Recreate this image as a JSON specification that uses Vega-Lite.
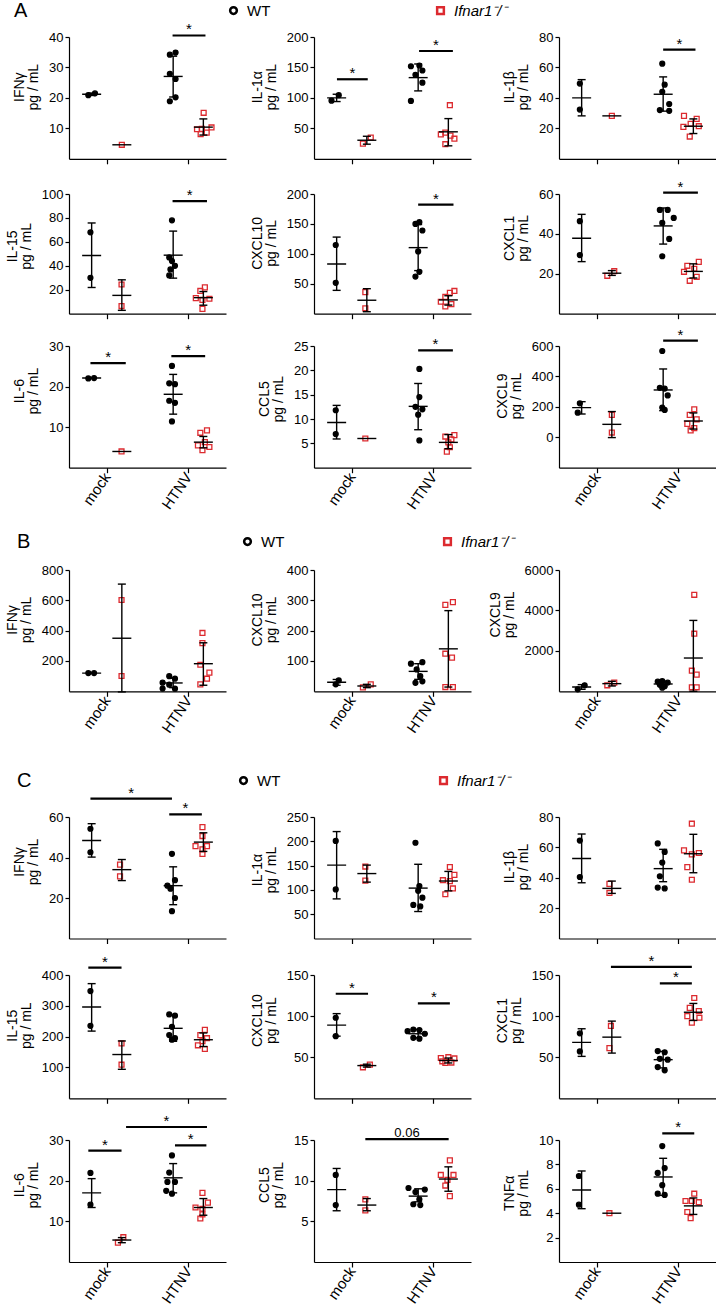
{
"$schema": "https://vega.github.io/schema/vega-lite/v6.json",
"padding": {"left": 5, "top": 3, "right": 0, "bottom": 0},
"config": {
 "view": {"stroke": null},
 "font": "Liberation Sans",
 "axis": {"grid": false, "domainColor": "#000", "tickColor": "#000", "labelColor": "#000", "titleColor": "#000", "labelFont": "Liberation Sans", "titleFont": "Liberation Sans", "labelFontSize": 13, "titleFontSize": 14, "titleFontWeight": "normal", "tickSize": 4, "domainWidth": 1.2, "tickWidth": 1.2, "labelPadding": 2, "titlePadding": 8, "titleLineHeight": 14, "labelFlush": false, "labelOverlap": false},
 "axisX": {"tickSize": 5, "labelAngle": -55, "labelAlign": "right", "labelBaseline": "middle", "labelFontSize": 15, "labelPadding": 1},
 "legend": {"labelFont": "Liberation Sans", "titleFont": "Liberation Sans", "labelColor": "#000", "titleColor": "#000"},
 "text": {"font": "Liberation Sans"}
},
"data": {"values": [
{"p":"A11","k":"pt","g":"WT","x":0.64,"v":20.9},{"p":"A11","k":"pt","g":"WT","x":0.86,"v":21.5},{"p":"A11","k":"pt","g":"KO","x":1.75,"v":4.6},
{"p":"A11","k":"pt","g":"WT","x":3.34,"v":34.2},{"p":"A11","k":"pt","g":"WT","x":3.53,"v":34.9},{"p":"A11","k":"pt","g":"WT","x":3.34,"v":27.9},{"p":"A11","k":"pt","g":"WT","x":3.53,"v":26.2},{"p":"A11","k":"pt","g":"WT","x":3.53,"v":20.2},{"p":"A11","k":"pt","g":"WT","x":3.34,"v":18.9},
{"p":"A11","k":"pt","g":"KO","x":4.46,"v":15.1},{"p":"A11","k":"pt","g":"KO","x":4.24,"v":9.7},{"p":"A11","k":"pt","g":"KO","x":4.4,"v":9.8},{"p":"A11","k":"pt","g":"KO","x":4.72,"v":10.3},{"p":"A11","k":"pt","g":"KO","x":4.36,"v":8.1},{"p":"A11","k":"pt","g":"KO","x":4.56,"v":8.6},
{"p":"A11","k":"sm","x":0.75,"m":21.2,"lo":20.8,"hi":21.6},{"p":"A11","k":"sm","x":1.75,"m":4.6},{"p":"A11","k":"sm","x":3.45,"m":27.05,"lo":20.3,"hi":33.7},{"p":"A11","k":"sm","x":4.45,"m":10.4,"lo":7.8,"hi":13.1},
{"p":"A11","k":"sg","x1":3.43,"x2":4.52,"xm":3.975,"y":40.5,"t":"*"},
{"p":"A12","k":"pt","g":"WT","x":0.58,"v":95.5},{"p":"A12","k":"pt","g":"WT","x":0.82,"v":104.5},{"p":"A12","k":"pt","g":"KO","x":1.62,"v":25},{"p":"A12","k":"pt","g":"KO","x":1.88,"v":35},
{"p":"A12","k":"pt","g":"WT","x":3.21,"v":152},{"p":"A12","k":"pt","g":"WT","x":3.49,"v":153},{"p":"A12","k":"pt","g":"WT","x":3.59,"v":145},{"p":"A12","k":"pt","g":"WT","x":3.36,"v":138},{"p":"A12","k":"pt","g":"WT","x":3.59,"v":125},{"p":"A12","k":"pt","g":"WT","x":3.21,"v":95},
{"p":"A12","k":"pt","g":"KO","x":4.5,"v":88},{"p":"A12","k":"pt","g":"KO","x":4.35,"v":43},{"p":"A12","k":"pt","g":"KO","x":4.2,"v":40},{"p":"A12","k":"pt","g":"KO","x":4.52,"v":38},{"p":"A12","k":"pt","g":"KO","x":4.65,"v":33},{"p":"A12","k":"pt","g":"KO","x":4.35,"v":24},
{"p":"A12","k":"sm","x":0.75,"m":100,"lo":94,"hi":106},{"p":"A12","k":"sm","x":1.75,"m":30.5,"lo":24,"hi":37},{"p":"A12","k":"sm","x":3.45,"m":133.3,"lo":111.5,"hi":155.7},{"p":"A12","k":"sm","x":4.45,"m":44.3,"lo":21.3,"hi":66},
{"p":"A12","k":"sg","x1":0.76,"x2":1.78,"xm":1.27,"y":130.6,"t":"*"},{"p":"A12","k":"sg","x1":3.48,"x2":4.6,"xm":4.04,"y":177,"t":"*"},
{"p":"A13","k":"pt","g":"WT","x":0.69,"v":49.4},{"p":"A13","k":"pt","g":"WT","x":0.69,"v":32.3},{"p":"A13","k":"pt","g":"KO","x":1.75,"v":28.2},
{"p":"A13","k":"pt","g":"WT","x":3.42,"v":62.5},{"p":"A13","k":"pt","g":"WT","x":3.5,"v":48.7},{"p":"A13","k":"pt","g":"WT","x":3.42,"v":44},{"p":"A13","k":"pt","g":"WT","x":3.65,"v":36},{"p":"A13","k":"pt","g":"WT","x":3.34,"v":32},{"p":"A13","k":"pt","g":"WT","x":3.65,"v":31.5},
{"p":"A13","k":"pt","g":"KO","x":4.14,"v":28.2},{"p":"A13","k":"pt","g":"KO","x":4.56,"v":26.2},{"p":"A13","k":"pt","g":"KO","x":4.36,"v":23},{"p":"A13","k":"pt","g":"KO","x":4.12,"v":21},{"p":"A13","k":"pt","g":"KO","x":4.63,"v":21.4},{"p":"A13","k":"pt","g":"KO","x":4.33,"v":14.6},
{"p":"A13","k":"sm","x":0.75,"m":40,"lo":28.2,"hi":52},{"p":"A13","k":"sm","x":1.75,"m":28.2},{"p":"A13","k":"sm","x":3.45,"m":42.4,"lo":31.3,"hi":53.8},{"p":"A13","k":"sm","x":4.45,"m":21.4,"lo":16.6,"hi":26.2},
{"p":"A13","k":"sg","x1":3.45,"x2":4.52,"xm":3.985,"y":71.7,"t":"*"},
{"p":"A21","k":"pt","g":"WT","x":0.71,"v":68},{"p":"A21","k":"pt","g":"WT","x":0.71,"v":30},{"p":"A21","k":"pt","g":"KO","x":1.74,"v":24.4},{"p":"A21","k":"pt","g":"KO","x":1.74,"v":6.4},
{"p":"A21","k":"pt","g":"WT","x":3.41,"v":78},{"p":"A21","k":"pt","g":"WT","x":3.32,"v":47},{"p":"A21","k":"pt","g":"WT","x":3.41,"v":44},{"p":"A21","k":"pt","g":"WT","x":3.51,"v":40},{"p":"A21","k":"pt","g":"WT","x":3.36,"v":37},{"p":"A21","k":"pt","g":"WT","x":3.32,"v":32},
{"p":"A21","k":"pt","g":"KO","x":4.5,"v":22},{"p":"A21","k":"pt","g":"KO","x":4.35,"v":19},{"p":"A21","k":"pt","g":"KO","x":4.2,"v":13},{"p":"A21","k":"pt","g":"KO","x":4.65,"v":12.5},{"p":"A21","k":"pt","g":"KO","x":4.42,"v":11.5},{"p":"A21","k":"pt","g":"KO","x":4.42,"v":4},
{"p":"A21","k":"sm","x":0.75,"m":48.6,"lo":21.9,"hi":75.8},{"p":"A21","k":"sm","x":1.75,"m":15.3,"lo":2.8,"hi":28.3},{"p":"A21","k":"sm","x":3.45,"m":48.9,"lo":29.7,"hi":69},{"p":"A21","k":"sm","x":4.45,"m":13.4,"lo":7.1,"hi":18.5},
{"p":"A21","k":"sg","x1":3.43,"x2":4.57,"xm":4.0,"y":94,"t":"*"},
{"p":"A22","k":"pt","g":"WT","x":0.72,"v":114.8},{"p":"A22","k":"pt","g":"WT","x":0.72,"v":51.6},{"p":"A22","k":"pt","g":"KO","x":1.7,"v":36},{"p":"A22","k":"pt","g":"KO","x":1.7,"v":9},
{"p":"A22","k":"pt","g":"WT","x":3.49,"v":153},{"p":"A22","k":"pt","g":"WT","x":3.36,"v":150},{"p":"A22","k":"pt","g":"WT","x":3.59,"v":139},{"p":"A22","k":"pt","g":"WT","x":3.45,"v":104},{"p":"A22","k":"pt","g":"WT","x":3.49,"v":70},{"p":"A22","k":"pt","g":"WT","x":3.36,"v":62},
{"p":"A22","k":"pt","g":"KO","x":4.65,"v":38},{"p":"A22","k":"pt","g":"KO","x":4.5,"v":35},{"p":"A22","k":"pt","g":"KO","x":4.35,"v":28},{"p":"A22","k":"pt","g":"KO","x":4.2,"v":20},{"p":"A22","k":"pt","g":"KO","x":4.55,"v":16},{"p":"A22","k":"pt","g":"KO","x":4.35,"v":12},
{"p":"A22","k":"sm","x":0.75,"m":83,"lo":39,"hi":128},{"p":"A22","k":"sm","x":1.75,"m":22.5,"lo":3.3,"hi":41.8},{"p":"A22","k":"sm","x":3.45,"m":110.4,"lo":72,"hi":149},{"p":"A22","k":"sm","x":4.45,"m":23,"lo":14.4,"hi":30},
{"p":"A22","k":"sg","x1":3.45,"x2":4.62,"xm":4.035,"y":182.4,"t":"*"},
{"p":"A23","k":"pt","g":"WT","x":0.69,"v":46.4},{"p":"A23","k":"pt","g":"WT","x":0.69,"v":29.4},{"p":"A23","k":"pt","g":"KO","x":1.6,"v":19},{"p":"A23","k":"pt","g":"KO","x":1.83,"v":21.3},
{"p":"A23","k":"pt","g":"WT","x":3.34,"v":52},{"p":"A23","k":"pt","g":"WT","x":3.6,"v":52},{"p":"A23","k":"pt","g":"WT","x":3.8,"v":48},{"p":"A23","k":"pt","g":"WT","x":3.42,"v":45.5},{"p":"A23","k":"pt","g":"WT","x":3.65,"v":37.5},{"p":"A23","k":"pt","g":"WT","x":3.42,"v":28.8},
{"p":"A23","k":"pt","g":"KO","x":4.63,"v":26},{"p":"A23","k":"pt","g":"KO","x":4.25,"v":24},{"p":"A23","k":"pt","g":"KO","x":4.48,"v":22.5},{"p":"A23","k":"pt","g":"KO","x":4.14,"v":21},{"p":"A23","k":"pt","g":"KO","x":4.56,"v":18.5},{"p":"A23","k":"pt","g":"KO","x":4.33,"v":16.5},
{"p":"A23","k":"sm","x":0.75,"m":37.8,"lo":26.1,"hi":49.8},{"p":"A23","k":"sm","x":1.75,"m":20.3,"lo":19.2,"hi":21.6},{"p":"A23","k":"sm","x":3.45,"m":44,"lo":34.9,"hi":53},{"p":"A23","k":"sm","x":4.45,"m":21.2,"lo":17.9,"hi":25},
{"p":"A23","k":"sg","x1":3.45,"x2":4.6,"xm":4.025,"y":60.7,"t":"*"},
{"p":"A31","k":"pt","g":"WT","x":0.64,"v":22},{"p":"A31","k":"pt","g":"WT","x":0.83,"v":22.1},{"p":"A31","k":"pt","g":"KO","x":1.74,"v":4},
{"p":"A31","k":"pt","g":"WT","x":3.41,"v":25.1},{"p":"A31","k":"pt","g":"WT","x":3.32,"v":20.8},{"p":"A31","k":"pt","g":"WT","x":3.51,"v":20.6},{"p":"A31","k":"pt","g":"WT","x":3.32,"v":16.5},{"p":"A31","k":"pt","g":"WT","x":3.51,"v":16},{"p":"A31","k":"pt","g":"WT","x":3.41,"v":11.4},
{"p":"A31","k":"pt","g":"KO","x":4.57,"v":9.2},{"p":"A31","k":"pt","g":"KO","x":4.35,"v":8.6},{"p":"A31","k":"pt","g":"KO","x":4.5,"v":6.3},{"p":"A31","k":"pt","g":"KO","x":4.27,"v":5.5},{"p":"A31","k":"pt","g":"KO","x":4.65,"v":5.1},{"p":"A31","k":"pt","g":"KO","x":4.42,"v":4.3},
{"p":"A31","k":"sm","x":0.75,"m":22.1},{"p":"A31","k":"sm","x":1.75,"m":4},{"p":"A31","k":"sm","x":3.45,"m":18.1,"lo":13.2,"hi":23},{"p":"A31","k":"sm","x":4.45,"m":6.3,"lo":4.9,"hi":7.7},
{"p":"A31","k":"sg","x1":0.71,"x2":1.88,"xm":1.295,"y":25.8,"t":"*"},{"p":"A31","k":"sg","x1":3.39,"x2":4.51,"xm":3.95,"y":27.5,"t":"*"},
{"p":"A32","k":"pt","g":"WT","x":0.72,"v":11.8},{"p":"A32","k":"pt","g":"WT","x":0.72,"v":6.9},{"p":"A32","k":"pt","g":"KO","x":1.7,"v":6.0},
{"p":"A32","k":"pt","g":"WT","x":3.49,"v":20.3},{"p":"A32","k":"pt","g":"WT","x":3.49,"v":14.5},{"p":"A32","k":"pt","g":"WT","x":3.36,"v":12.5},{"p":"A32","k":"pt","g":"WT","x":3.59,"v":12},{"p":"A32","k":"pt","g":"WT","x":3.45,"v":10.9},{"p":"A32","k":"pt","g":"WT","x":3.49,"v":5.6},
{"p":"A32","k":"pt","g":"KO","x":4.65,"v":6.7},{"p":"A32","k":"pt","g":"KO","x":4.35,"v":6.4},{"p":"A32","k":"pt","g":"KO","x":4.55,"v":5.8},{"p":"A32","k":"pt","g":"KO","x":4.45,"v":5.2},{"p":"A32","k":"pt","g":"KO","x":4.5,"v":4.2},{"p":"A32","k":"pt","g":"KO","x":4.4,"v":3.3},
{"p":"A32","k":"sm","x":0.75,"m":9.3,"lo":5.9,"hi":12.8},{"p":"A32","k":"sm","x":1.75,"m":6.0},{"p":"A32","k":"sm","x":3.45,"m":12.6,"lo":7.8,"hi":17.3},{"p":"A32","k":"sm","x":4.45,"m":5.2,"lo":3.9,"hi":6.8},
{"p":"A32","k":"sg","x1":3.45,"x2":4.6,"xm":4.025,"y":24.1,"t":"*"},
{"p":"A33","k":"pt","g":"WT","x":0.69,"v":223},{"p":"A33","k":"pt","g":"WT","x":0.62,"v":162},{"p":"A33","k":"pt","g":"KO","x":1.75,"v":147},{"p":"A33","k":"pt","g":"KO","x":1.75,"v":31},
{"p":"A33","k":"pt","g":"WT","x":3.42,"v":567},{"p":"A33","k":"pt","g":"WT","x":3.34,"v":325},{"p":"A33","k":"pt","g":"WT","x":3.5,"v":320},{"p":"A33","k":"pt","g":"WT","x":3.6,"v":275},{"p":"A33","k":"pt","g":"WT","x":3.42,"v":195},{"p":"A33","k":"pt","g":"WT","x":3.5,"v":180},
{"p":"A33","k":"pt","g":"KO","x":4.48,"v":184},{"p":"A33","k":"pt","g":"KO","x":4.33,"v":147},{"p":"A33","k":"pt","g":"KO","x":4.56,"v":118},{"p":"A33","k":"pt","g":"KO","x":4.25,"v":88},{"p":"A33","k":"pt","g":"KO","x":4.48,"v":60},{"p":"A33","k":"pt","g":"KO","x":4.36,"v":45},
{"p":"A33","k":"sm","x":0.75,"m":195,"lo":153,"hi":234},{"p":"A33","k":"sm","x":1.75,"m":85,"lo":-2,"hi":169},{"p":"A33","k":"sm","x":3.45,"m":311,"lo":175,"hi":449},{"p":"A33","k":"sm","x":4.45,"m":107,"lo":54,"hi":160},
{"p":"A33","k":"sg","x1":3.45,"x2":4.6,"xm":4.025,"y":635,"t":"*"},
{"p":"B1","k":"pt","g":"WT","x":0.64,"v":120},{"p":"B1","k":"pt","g":"WT","x":0.83,"v":120},{"p":"B1","k":"pt","g":"KO","x":1.74,"v":602},{"p":"B1","k":"pt","g":"KO","x":1.74,"v":101},
{"p":"B1","k":"pt","g":"WT","x":3.32,"v":100},{"p":"B1","k":"pt","g":"WT","x":3.51,"v":83},{"p":"B1","k":"pt","g":"WT","x":3.1,"v":57},{"p":"B1","k":"pt","g":"WT","x":3.32,"v":44},{"p":"B1","k":"pt","g":"WT","x":3.1,"v":18},{"p":"B1","k":"pt","g":"WT","x":3.51,"v":17},
{"p":"B1","k":"pt","g":"KO","x":4.42,"v":385},{"p":"B1","k":"pt","g":"KO","x":4.42,"v":318},{"p":"B1","k":"pt","g":"KO","x":4.35,"v":175},{"p":"B1","k":"pt","g":"KO","x":4.65,"v":123},{"p":"B1","k":"pt","g":"KO","x":4.57,"v":83},{"p":"B1","k":"pt","g":"KO","x":4.35,"v":46},
{"p":"B1","k":"sm","x":0.75,"m":120},{"p":"B1","k":"sm","x":1.75,"m":350,"lo":-4,"hi":707},{"p":"B1","k":"sm","x":3.45,"m":55,"lo":24,"hi":86},{"p":"B1","k":"sm","x":4.45,"m":182,"lo":40,"hi":320},
{"p":"B2","k":"pt","g":"WT","x":0.72,"v":23},{"p":"B2","k":"pt","g":"WT","x":0.82,"v":36},{"p":"B2","k":"pt","g":"KO","x":1.62,"v":13},{"p":"B2","k":"pt","g":"KO","x":1.88,"v":23},
{"p":"B2","k":"pt","g":"WT","x":3.21,"v":91},{"p":"B2","k":"pt","g":"WT","x":3.59,"v":96},{"p":"B2","k":"pt","g":"WT","x":3.4,"v":72},{"p":"B2","k":"pt","g":"WT","x":3.52,"v":50},{"p":"B2","k":"pt","g":"WT","x":3.36,"v":28},{"p":"B2","k":"pt","g":"WT","x":3.59,"v":33},
{"p":"B2","k":"pt","g":"KO","x":4.35,"v":285},{"p":"B2","k":"pt","g":"KO","x":4.6,"v":294},{"p":"B2","k":"pt","g":"KO","x":4.35,"v":124},{"p":"B2","k":"pt","g":"KO","x":4.57,"v":111},{"p":"B2","k":"pt","g":"KO","x":4.35,"v":14},{"p":"B2","k":"pt","g":"KO","x":4.6,"v":14},
{"p":"B2","k":"sm","x":0.75,"m":29.6,"lo":20,"hi":39},{"p":"B2","k":"sm","x":1.75,"m":17.5,"lo":12,"hi":23},{"p":"B2","k":"sm","x":3.45,"m":65.7,"lo":39.4,"hi":91},{"p":"B2","k":"sm","x":4.45,"m":140,"lo":14,"hi":266},
{"p":"B3","k":"pt","g":"WT","x":0.62,"v":99},{"p":"B3","k":"pt","g":"WT","x":0.85,"v":296},{"p":"B3","k":"pt","g":"KO","x":1.6,"v":296},{"p":"B3","k":"pt","g":"KO","x":1.83,"v":428},
{"p":"B3","k":"pt","g":"WT","x":3.27,"v":480},{"p":"B3","k":"pt","g":"WT","x":3.42,"v":500},{"p":"B3","k":"pt","g":"WT","x":3.6,"v":430},{"p":"B3","k":"pt","g":"WT","x":3.34,"v":330},{"p":"B3","k":"pt","g":"WT","x":3.5,"v":250},{"p":"B3","k":"pt","g":"WT","x":3.42,"v":180},
{"p":"B3","k":"pt","g":"KO","x":4.48,"v":4774},{"p":"B3","k":"pt","g":"KO","x":4.48,"v":2848},{"p":"B3","k":"pt","g":"KO","x":4.4,"v":1020},{"p":"B3","k":"pt","g":"KO","x":4.56,"v":823},{"p":"B3","k":"pt","g":"KO","x":4.4,"v":198},{"p":"B3","k":"pt","g":"KO","x":4.56,"v":198},
{"p":"B3","k":"sm","x":0.75,"m":214,"lo":99,"hi":330},{"p":"B3","k":"sm","x":1.75,"m":379,"lo":263,"hi":494},{"p":"B3","k":"sm","x":3.45,"m":362,"lo":230,"hi":494},{"p":"B3","k":"sm","x":4.45,"m":1646,"lo":0,"hi":3506},
{"p":"C11","k":"pt","g":"WT","x":0.71,"v":54.2},{"p":"C11","k":"pt","g":"WT","x":0.71,"v":42.6},{"p":"C11","k":"pt","g":"KO","x":1.69,"v":36.5},{"p":"C11","k":"pt","g":"KO","x":1.69,"v":30.7},
{"p":"C11","k":"pt","g":"WT","x":3.41,"v":41.8},{"p":"C11","k":"pt","g":"WT","x":3.51,"v":28.8},{"p":"C11","k":"pt","g":"WT","x":3.26,"v":26.1},{"p":"C11","k":"pt","g":"WT","x":3.36,"v":24.6},{"p":"C11","k":"pt","g":"WT","x":3.51,"v":20},{"p":"C11","k":"pt","g":"WT","x":3.41,"v":13.5},
{"p":"C11","k":"pt","g":"KO","x":4.42,"v":55},{"p":"C11","k":"pt","g":"KO","x":4.42,"v":50.6},{"p":"C11","k":"pt","g":"KO","x":4.19,"v":45.6},{"p":"C11","k":"pt","g":"KO","x":4.57,"v":45.6},{"p":"C11","k":"pt","g":"KO","x":4.42,"v":44},{"p":"C11","k":"pt","g":"KO","x":4.42,"v":41.8},
{"p":"C11","k":"sm","x":0.75,"m":48.4,"lo":40.2,"hi":56.7},{"p":"C11","k":"sm","x":1.75,"m":34,"lo":28.6,"hi":39},{"p":"C11","k":"sm","x":3.45,"m":26.1,"lo":16.7,"hi":35.4},{"p":"C11","k":"sm","x":4.45,"m":47.6,"lo":43,"hi":52.2},
{"p":"C11","k":"sg","x1":0.71,"x2":3.41,"xm":2.06,"y":69.1,"t":"*"},{"p":"C11","k":"sg","x1":3.32,"x2":4.4,"xm":3.86,"y":61.3,"t":"*"},
{"p":"C12","k":"pt","g":"WT","x":0.72,"v":200.7},{"p":"C12","k":"pt","g":"WT","x":0.72,"v":101},{"p":"C12","k":"pt","g":"KO","x":1.7,"v":148},{"p":"C12","k":"pt","g":"KO","x":1.7,"v":119},
{"p":"C12","k":"pt","g":"WT","x":3.36,"v":197},{"p":"C12","k":"pt","g":"WT","x":3.49,"v":108},{"p":"C12","k":"pt","g":"WT","x":3.45,"v":98},{"p":"C12","k":"pt","g":"WT","x":3.59,"v":84},{"p":"C12","k":"pt","g":"WT","x":3.29,"v":69},{"p":"C12","k":"pt","g":"WT","x":3.52,"v":66},
{"p":"C12","k":"pt","g":"KO","x":4.5,"v":147},{"p":"C12","k":"pt","g":"KO","x":4.65,"v":131},{"p":"C12","k":"pt","g":"KO","x":4.27,"v":120},{"p":"C12","k":"pt","g":"KO","x":4.5,"v":118},{"p":"C12","k":"pt","g":"KO","x":4.6,"v":103},{"p":"C12","k":"pt","g":"KO","x":4.35,"v":91},
{"p":"C12","k":"sm","x":0.75,"m":151,"lo":81.5,"hi":220},{"p":"C12","k":"sm","x":1.75,"m":133.6,"lo":116,"hi":151},{"p":"C12","k":"sm","x":3.45,"m":103.7,"lo":55.5,"hi":152.7},{"p":"C12","k":"sm","x":4.45,"m":118.3,"lo":98,"hi":138},
{"p":"C13","k":"pt","g":"WT","x":0.69,"v":64.5},{"p":"C13","k":"pt","g":"WT","x":0.69,"v":40.5},{"p":"C13","k":"pt","g":"KO","x":1.67,"v":36},{"p":"C13","k":"pt","g":"KO","x":1.67,"v":30},
{"p":"C13","k":"pt","g":"WT","x":3.27,"v":62.6},{"p":"C13","k":"pt","g":"WT","x":3.5,"v":57},{"p":"C13","k":"pt","g":"WT","x":3.42,"v":50},{"p":"C13","k":"pt","g":"WT","x":3.34,"v":41},{"p":"C13","k":"pt","g":"WT","x":3.27,"v":33.5},{"p":"C13","k":"pt","g":"WT","x":3.5,"v":33},
{"p":"C13","k":"pt","g":"KO","x":4.4,"v":75.6},{"p":"C13","k":"pt","g":"KO","x":4.14,"v":58},{"p":"C13","k":"pt","g":"KO","x":4.4,"v":55.4},{"p":"C13","k":"pt","g":"KO","x":4.63,"v":56.3},{"p":"C13","k":"pt","g":"KO","x":4.25,"v":47},{"p":"C13","k":"pt","g":"KO","x":4.4,"v":38.7},
{"p":"C13","k":"sm","x":0.75,"m":52.7,"lo":36.7,"hi":68.8},{"p":"C13","k":"sm","x":1.75,"m":33,"lo":29.7,"hi":37.8},{"p":"C13","k":"sm","x":3.45,"m":46,"lo":37.4,"hi":58.7},{"p":"C13","k":"sm","x":4.45,"m":55.8,"lo":43.3,"hi":68.6},
{"p":"C21","k":"pt","g":"WT","x":0.71,"v":348},{"p":"C21","k":"pt","g":"WT","x":0.71,"v":235},{"p":"C21","k":"pt","g":"KO","x":1.74,"v":178},{"p":"C21","k":"pt","g":"KO","x":1.74,"v":109},
{"p":"C21","k":"pt","g":"WT","x":3.32,"v":272},{"p":"C21","k":"pt","g":"WT","x":3.51,"v":268},{"p":"C21","k":"pt","g":"WT","x":3.41,"v":232},{"p":"C21","k":"pt","g":"WT","x":3.32,"v":205},{"p":"C21","k":"pt","g":"WT","x":3.51,"v":195},{"p":"C21","k":"pt","g":"WT","x":3.41,"v":190},
{"p":"C21","k":"pt","g":"KO","x":4.5,"v":222},{"p":"C21","k":"pt","g":"KO","x":4.35,"v":205},{"p":"C21","k":"pt","g":"KO","x":4.57,"v":195},{"p":"C21","k":"pt","g":"KO","x":4.42,"v":185},{"p":"C21","k":"pt","g":"KO","x":4.27,"v":172},{"p":"C21","k":"pt","g":"KO","x":4.5,"v":160},
{"p":"C21","k":"sm","x":0.75,"m":296,"lo":218,"hi":372},{"p":"C21","k":"sm","x":1.75,"m":142,"lo":94,"hi":186},{"p":"C21","k":"sm","x":3.45,"m":227,"lo":185,"hi":270},{"p":"C21","k":"sm","x":4.45,"m":190,"lo":168,"hi":212},
{"p":"C21","k":"sg","x1":0.64,"x2":1.74,"xm":1.19,"y":424,"t":"*"},
{"p":"C22","k":"pt","g":"WT","x":0.72,"v":98},{"p":"C22","k":"pt","g":"WT","x":0.72,"v":75.6},{"p":"C22","k":"pt","g":"KO","x":1.62,"v":37.7},{"p":"C22","k":"pt","g":"KO","x":1.85,"v":41},
{"p":"C22","k":"pt","g":"WT","x":3.1,"v":81.7},{"p":"C22","k":"pt","g":"WT","x":3.29,"v":83.7},{"p":"C22","k":"pt","g":"WT","x":3.49,"v":83},{"p":"C22","k":"pt","g":"WT","x":3.67,"v":78.5},{"p":"C22","k":"pt","g":"WT","x":3.29,"v":73.6},{"p":"C22","k":"pt","g":"WT","x":3.49,"v":72.5},
{"p":"C22","k":"pt","g":"KO","x":4.2,"v":49},{"p":"C22","k":"pt","g":"KO","x":4.45,"v":50},{"p":"C22","k":"pt","g":"KO","x":4.65,"v":48.5},{"p":"C22","k":"pt","g":"KO","x":4.35,"v":43},{"p":"C22","k":"pt","g":"KO","x":4.55,"v":43.5},{"p":"C22","k":"pt","g":"KO","x":4.25,"v":45},
{"p":"C22","k":"sm","x":0.75,"m":89,"lo":75.6,"hi":103},{"p":"C22","k":"sm","x":1.75,"m":39.8,"lo":38,"hi":41.5},{"p":"C22","k":"sm","x":3.45,"m":78.5,"lo":73.6,"hi":83.7},{"p":"C22","k":"sm","x":4.45,"m":46,"lo":43,"hi":49},
{"p":"C22","k":"sg","x1":0.72,"x2":1.79,"xm":1.255,"y":127.2,"t":"*"},{"p":"C22","k":"sg","x1":3.44,"x2":4.5,"xm":3.97,"y":115.4,"t":"*"},
{"p":"C23","k":"pt","g":"WT","x":0.69,"v":79},{"p":"C23","k":"pt","g":"WT","x":0.69,"v":57},{"p":"C23","k":"pt","g":"KO","x":1.72,"v":88},{"p":"C23","k":"pt","g":"KO","x":1.67,"v":61},
{"p":"C23","k":"pt","g":"WT","x":3.27,"v":57.5},{"p":"C23","k":"pt","g":"WT","x":3.5,"v":56},{"p":"C23","k":"pt","g":"WT","x":3.34,"v":48},{"p":"C23","k":"pt","g":"WT","x":3.6,"v":47},{"p":"C23","k":"pt","g":"WT","x":3.27,"v":38},{"p":"C23","k":"pt","g":"WT","x":3.5,"v":34},
{"p":"C23","k":"pt","g":"KO","x":4.48,"v":122},{"p":"C23","k":"pt","g":"KO","x":4.33,"v":110},{"p":"C23","k":"pt","g":"KO","x":4.63,"v":106},{"p":"C23","k":"pt","g":"KO","x":4.25,"v":100},{"p":"C23","k":"pt","g":"KO","x":4.65,"v":98},{"p":"C23","k":"pt","g":"KO","x":4.4,"v":92},
{"p":"C23","k":"sm","x":0.75,"m":68,"lo":51,"hi":84.6},{"p":"C23","k":"sm","x":1.75,"m":74.4,"lo":55,"hi":93.9},{"p":"C23","k":"sm","x":3.45,"m":47,"lo":37,"hi":57},{"p":"C23","k":"sm","x":4.45,"m":104.7,"lo":94.7,"hi":115.4},
{"p":"C23","k":"sg","x1":1.72,"x2":4.4,"xm":3.06,"y":159.8,"t":"*"},{"p":"C23","k":"sg","x1":3.34,"x2":4.4,"xm":3.87,"y":139.8,"t":"*"},
{"p":"C31","k":"pt","g":"WT","x":0.71,"v":21.9},{"p":"C31","k":"pt","g":"WT","x":0.71,"v":14.1},{"p":"C31","k":"pt","g":"KO","x":1.62,"v":4.75},{"p":"C31","k":"pt","g":"KO","x":1.8,"v":6.1},
{"p":"C31","k":"pt","g":"WT","x":3.41,"v":26.2},{"p":"C31","k":"pt","g":"WT","x":3.32,"v":22},{"p":"C31","k":"pt","g":"WT","x":3.26,"v":19.7},{"p":"C31","k":"pt","g":"WT","x":3.51,"v":19.7},{"p":"C31","k":"pt","g":"WT","x":3.22,"v":17.5},{"p":"C31","k":"pt","g":"WT","x":3.41,"v":16.8},
{"p":"C31","k":"pt","g":"KO","x":4.42,"v":17},{"p":"C31","k":"pt","g":"KO","x":4.19,"v":13.4},{"p":"C31","k":"pt","g":"KO","x":4.42,"v":13.1},{"p":"C31","k":"pt","g":"KO","x":4.6,"v":14.6},{"p":"C31","k":"pt","g":"KO","x":4.42,"v":11.7},{"p":"C31","k":"pt","g":"KO","x":4.35,"v":10.7},
{"p":"C31","k":"sm","x":0.75,"m":17,"lo":13.4,"hi":20.5},{"p":"C31","k":"sm","x":1.75,"m":5.4,"lo":4.75,"hi":6},{"p":"C31","k":"sm","x":3.45,"m":20.7,"lo":17,"hi":24.2},{"p":"C31","k":"sm","x":4.45,"m":13.4,"lo":11.5,"hi":15.6},
{"p":"C31","k":"sg","x1":0.64,"x2":1.74,"xm":1.19,"y":27.4,"t":"*"},{"p":"C31","k":"sg","x1":1.89,"x2":4.57,"xm":3.23,"y":33.2,"t":"*"},{"p":"C31","k":"sg","x1":3.51,"x2":4.55,"xm":4.03,"y":28.7,"t":"*"},
{"p":"C32","k":"pt","g":"WT","x":0.72,"v":10.7},{"p":"C32","k":"pt","g":"WT","x":0.72,"v":7},{"p":"C32","k":"pt","g":"KO","x":1.7,"v":7.7},{"p":"C32","k":"pt","g":"KO","x":1.7,"v":6.35},
{"p":"C32","k":"pt","g":"WT","x":3.13,"v":9.1},{"p":"C32","k":"pt","g":"WT","x":3.67,"v":8.9},{"p":"C32","k":"pt","g":"WT","x":3.36,"v":8.6},{"p":"C32","k":"pt","g":"WT","x":3.49,"v":7.7},{"p":"C32","k":"pt","g":"WT","x":3.29,"v":7.1},{"p":"C32","k":"pt","g":"WT","x":3.52,"v":7.0},
{"p":"C32","k":"pt","g":"KO","x":4.5,"v":12.5},{"p":"C32","k":"pt","g":"KO","x":4.2,"v":10.7},{"p":"C32","k":"pt","g":"KO","x":4.62,"v":10.7},{"p":"C32","k":"pt","g":"KO","x":4.42,"v":10.1},{"p":"C32","k":"pt","g":"KO","x":4.35,"v":9.4},{"p":"C32","k":"pt","g":"KO","x":4.5,"v":8.1},
{"p":"C32","k":"sm","x":0.75,"m":8.9,"lo":6.3,"hi":11.5},{"p":"C32","k":"sm","x":1.75,"m":7,"lo":6.3,"hi":7.8},{"p":"C32","k":"sm","x":3.45,"m":8.1,"lo":7.4,"hi":9.0},{"p":"C32","k":"sm","x":4.45,"m":10.2,"lo":8.7,"hi":11.7},
{"p":"C32","k":"sg","x1":1.7,"x2":4.46,"xm":3.08,"y":15.1,"t":"0.06"},
{"p":"C33","k":"pt","g":"WT","x":0.66,"v":7.05},{"p":"C33","k":"pt","g":"WT","x":0.66,"v":4.7},{"p":"C33","k":"pt","g":"KO","x":1.67,"v":4.0},
{"p":"C33","k":"pt","g":"WT","x":3.42,"v":9.5},{"p":"C33","k":"pt","g":"WT","x":3.5,"v":7.7},{"p":"C33","k":"pt","g":"WT","x":3.27,"v":7.3},{"p":"C33","k":"pt","g":"WT","x":3.42,"v":6.3},{"p":"C33","k":"pt","g":"WT","x":3.27,"v":5.6},{"p":"C33","k":"pt","g":"WT","x":3.5,"v":5.5},
{"p":"C33","k":"pt","g":"KO","x":4.48,"v":5.6},{"p":"C33","k":"pt","g":"KO","x":4.19,"v":5.0},{"p":"C33","k":"pt","g":"KO","x":4.4,"v":5.0},{"p":"C33","k":"pt","g":"KO","x":4.63,"v":4.9},{"p":"C33","k":"pt","g":"KO","x":4.25,"v":4.1},{"p":"C33","k":"pt","g":"KO","x":4.36,"v":3.6},
{"p":"C33","k":"sm","x":0.75,"m":5.9,"lo":4.37,"hi":7.46},{"p":"C33","k":"sm","x":1.75,"m":4},{"p":"C33","k":"sm","x":3.45,"m":6.97,"lo":5.46,"hi":8.5},{"p":"C33","k":"sm","x":4.45,"m":4.6,"lo":3.9,"hi":5.25},
{"p":"C33","k":"sg","x1":3.42,"x2":4.48,"xm":3.95,"y":10.55,"t":"*"}
]},
"columns": 3,
"spacing": {"row": 0, "column": 88},
"bounds": "flush",
"align": "each",
"resolve": {"scale": {"color": "independent", "shape": "independent"}},
"concat": [
{"width": 157, "height": 121.8, "transform": [{"filter": "datum.p=='A11'"}],
 "encoding": {"x": {"field": "x", "type": "quantitative", "scale": {"domain": [0, 5.2], "nice": false, "zero": false}, "axis": {"values": [1.25, 3.95], "labels": false, "title": null}}},
 "layer": [
  {"transform": [{"filter": "datum.k=='pt'"}], "mark": {"type": "point", "size": 24, "strokeWidth": 1.3, "filled": false, "opacity": 1},
   "encoding": {"y": {"field": "v", "type": "quantitative", "scale": {"domain": [0, 40], "nice": false, "zero": false}, "axis": {"values": [10, 20, 30, 40], "tickCount": 10, "labelOverlap": false, "titleY": 49.7, "title": ["IFNγ", "pg / mL"]}},
    "color": {"field": "g", "type": "nominal", "scale": {"domain": ["WT", "KO"], "range": ["#000000", "#dc2a2f"]},
      "legend": {"title": "A", "orient": "none", "legendX": -55, "legendY": -34, "direction": "horizontal", "columns": 2, "titleOrient": "left", "titleFontSize": 20, "titleFontWeight": "normal", "titlePadding": 198, "labelFontSize": 15, "labelOffset": 6, "columnPadding": 161, "symbolSize": 45, "symbolStrokeWidth": 2.5, "labelExpr": "datum.value=='KO'?'Ifnar1⁻/⁻':'WT'", "labelFontStyle": {"expr": "datum.value=='KO'?'italic':'normal'"}, "encode": {"labels": {"fontStyle": {"value": {"expr": "datum.value=='KO'?'italic':'normal'"}}}, "symbols": {"fill": {"value": "transparent"}}}}},
    "shape": {"field": "g", "type": "nominal", "scale": {"domain": ["WT", "KO"], "range": ["circle", "square"]}},
    "fill": {"condition": {"test": "datum.g=='WT'", "value": "#000000"}, "value": "transparent"}}},
  {"transform": [{"filter": "datum.k=='sm' && isValid(datum.lo)"}], "mark": {"type": "rule", "strokeWidth": 1.4, "color": "#000"}, "encoding": {"y": {"field": "lo", "type": "quantitative"}, "y2": {"field": "hi"}}},
  {"transform": [{"filter": "datum.k=='sm'"}], "mark": {"type": "tick", "orient": "horizontal", "size": 19, "thickness": 1.4, "color": "#000", "opacity": 1}, "encoding": {"y": {"field": "m", "type": "quantitative"}}},
  {"transform": [{"filter": "datum.k=='sm' && isValid(datum.lo)"}], "mark": {"type": "tick", "orient": "horizontal", "size": 8, "thickness": 1.4, "color": "#000", "opacity": 1}, "encoding": {"y": {"field": "lo", "type": "quantitative"}}},
  {"transform": [{"filter": "datum.k=='sm' && isValid(datum.hi)"}], "mark": {"type": "tick", "orient": "horizontal", "size": 8, "thickness": 1.4, "color": "#000", "opacity": 1}, "encoding": {"y": {"field": "hi", "type": "quantitative"}}},
  {"transform": [{"filter": "datum.k=='sg'"}], "mark": {"type": "rule", "strokeWidth": 2.2, "color": "#000"}, "encoding": {"x": {"field": "x1", "type": "quantitative"}, "x2": {"field": "x2"}, "y": {"field": "y", "type": "quantitative"}}},
  {"transform": [{"filter": "datum.k=='sg'"}], "mark": {"type": "text", "dy": -1, "baseline": "alphabetic", "fontSize": 15, "color": "#000"}, "encoding": {"x": {"field": "xm", "type": "quantitative"}, "y": {"field": "y", "type": "quantitative"}, "text": {"field": "t"}}}
 ]},
{"width": 157, "height": 121.8, "transform": [{"filter": "datum.p=='A12'"}],
 "encoding": {"x": {"field": "x", "type": "quantitative", "scale": {"domain": [0, 5.2], "nice": false, "zero": false}, "axis": {"values": [1.25, 3.95], "labels": false, "title": null}}},
 "layer": [
  {"transform": [{"filter": "datum.k=='pt'"}], "mark": {"type": "point", "size": 24, "strokeWidth": 1.3, "filled": false, "opacity": 1},
   "encoding": {"y": {"field": "v", "type": "quantitative", "scale": {"domain": [0, 200], "nice": false, "zero": false}, "axis": {"values": [50, 100, 150, 200], "tickCount": 10, "labelOverlap": false, "titleY": 49.7, "title": ["IL-1α", "pg / mL"]}},
    "color": {"field": "g", "type": "nominal", "scale": {"domain": ["WT", "KO"], "range": ["#000000", "#dc2a2f"]}, "legend": null},
    "shape": {"field": "g", "type": "nominal", "scale": {"domain": ["WT", "KO"], "range": ["circle", "square"]}, "legend": null},
    "fill": {"condition": {"test": "datum.g=='WT'", "value": "#000000"}, "value": "transparent"}}},
  {"transform": [{"filter": "datum.k=='sm' && isValid(datum.lo)"}], "mark": {"type": "rule", "strokeWidth": 1.4, "color": "#000"}, "encoding": {"y": {"field": "lo", "type": "quantitative"}, "y2": {"field": "hi"}}},
  {"transform": [{"filter": "datum.k=='sm'"}], "mark": {"type": "tick", "orient": "horizontal", "size": 19, "thickness": 1.4, "color": "#000", "opacity": 1}, "encoding": {"y": {"field": "m", "type": "quantitative"}}},
  {"transform": [{"filter": "datum.k=='sm' && isValid(datum.lo)"}], "mark": {"type": "tick", "orient": "horizontal", "size": 8, "thickness": 1.4, "color": "#000", "opacity": 1}, "encoding": {"y": {"field": "lo", "type": "quantitative"}}},
  {"transform": [{"filter": "datum.k=='sm' && isValid(datum.hi)"}], "mark": {"type": "tick", "orient": "horizontal", "size": 8, "thickness": 1.4, "color": "#000", "opacity": 1}, "encoding": {"y": {"field": "hi", "type": "quantitative"}}},
  {"transform": [{"filter": "datum.k=='sg'"}], "mark": {"type": "rule", "strokeWidth": 2.2, "color": "#000"}, "encoding": {"x": {"field": "x1", "type": "quantitative"}, "x2": {"field": "x2"}, "y": {"field": "y", "type": "quantitative"}}},
  {"transform": [{"filter": "datum.k=='sg'"}], "mark": {"type": "text", "dy": -1, "baseline": "alphabetic", "fontSize": 15, "color": "#000"}, "encoding": {"x": {"field": "xm", "type": "quantitative"}, "y": {"field": "y", "type": "quantitative"}, "text": {"field": "t"}}}
 ]},
{"width": 157, "height": 121.8, "transform": [{"filter": "datum.p=='A13'"}],
 "encoding": {"x": {"field": "x", "type": "quantitative", "scale": {"domain": [0, 5.2], "nice": false, "zero": false}, "axis": {"values": [1.25, 3.95], "labels": false, "title": null}}},
 "layer": [
  {"transform": [{"filter": "datum.k=='pt'"}], "mark": {"type": "point", "size": 24, "strokeWidth": 1.3, "filled": false, "opacity": 1},
   "encoding": {"y": {"field": "v", "type": "quantitative", "scale": {"domain": [0, 80], "nice": false, "zero": false}, "axis": {"values": [20, 40, 60, 80], "tickCount": 10, "labelOverlap": false, "titleY": 49.7, "title": ["IL-1β", "pg / mL"]}},
    "color": {"field": "g", "type": "nominal", "scale": {"domain": ["WT", "KO"], "range": ["#000000", "#dc2a2f"]}, "legend": null},
    "shape": {"field": "g", "type": "nominal", "scale": {"domain": ["WT", "KO"], "range": ["circle", "square"]}, "legend": null},
    "fill": {"condition": {"test": "datum.g=='WT'", "value": "#000000"}, "value": "transparent"}}},
  {"transform": [{"filter": "datum.k=='sm' && isValid(datum.lo)"}], "mark": {"type": "rule", "strokeWidth": 1.4, "color": "#000"}, "encoding": {"y": {"field": "lo", "type": "quantitative"}, "y2": {"field": "hi"}}},
  {"transform": [{"filter": "datum.k=='sm'"}], "mark": {"type": "tick", "orient": "horizontal", "size": 19, "thickness": 1.4, "color": "#000", "opacity": 1}, "encoding": {"y": {"field": "m", "type": "quantitative"}}},
  {"transform": [{"filter": "datum.k=='sm' && isValid(datum.lo)"}], "mark": {"type": "tick", "orient": "horizontal", "size": 8, "thickness": 1.4, "color": "#000", "opacity": 1}, "encoding": {"y": {"field": "lo", "type": "quantitative"}}},
  {"transform": [{"filter": "datum.k=='sm' && isValid(datum.hi)"}], "mark": {"type": "tick", "orient": "horizontal", "size": 8, "thickness": 1.4, "color": "#000", "opacity": 1}, "encoding": {"y": {"field": "hi", "type": "quantitative"}}},
  {"transform": [{"filter": "datum.k=='sg'"}], "mark": {"type": "rule", "strokeWidth": 2.2, "color": "#000"}, "encoding": {"x": {"field": "x1", "type": "quantitative"}, "x2": {"field": "x2"}, "y": {"field": "y", "type": "quantitative"}}},
  {"transform": [{"filter": "datum.k=='sg'"}], "mark": {"type": "text", "dy": -1, "baseline": "alphabetic", "fontSize": 15, "color": "#000"}, "encoding": {"x": {"field": "xm", "type": "quantitative"}, "y": {"field": "y", "type": "quantitative"}, "text": {"field": "t"}}}
 ]},
{"width": 157, "height": 34.8, "data": {"values": [{"a": 1}]}, "mark": {"type": "point", "opacity": 0}, "encoding": {}},
{"width": 157, "height": 34.8, "data": {"values": [{"a": 1}]}, "mark": {"type": "point", "opacity": 0}, "encoding": {}},
{"width": 157, "height": 34.8, "data": {"values": [{"a": 1}]}, "mark": {"type": "point", "opacity": 0}, "encoding": {}},
{"width": 157, "height": 119.7, "transform": [{"filter": "datum.p=='A21'"}],
 "encoding": {"x": {"field": "x", "type": "quantitative", "scale": {"domain": [0, 5.2], "nice": false, "zero": false}, "axis": {"values": [1.25, 3.95], "labels": false, "title": null}}},
 "layer": [
  {"transform": [{"filter": "datum.k=='pt'"}], "mark": {"type": "point", "size": 24, "strokeWidth": 1.3, "filled": false, "opacity": 1},
   "encoding": {"y": {"field": "v", "type": "quantitative", "scale": {"domain": [0, 100], "nice": false, "zero": false}, "axis": {"values": [20, 40, 60, 80, 100], "tickCount": 10, "labelOverlap": false, "titleY": 51.9, "title": ["IL-15", "pg / mL"]}},
    "color": {"field": "g", "type": "nominal", "scale": {"domain": ["WT", "KO"], "range": ["#000000", "#dc2a2f"]}, "legend": null},
    "shape": {"field": "g", "type": "nominal", "scale": {"domain": ["WT", "KO"], "range": ["circle", "square"]}, "legend": null},
    "fill": {"condition": {"test": "datum.g=='WT'", "value": "#000000"}, "value": "transparent"}}},
  {"transform": [{"filter": "datum.k=='sm' && isValid(datum.lo)"}], "mark": {"type": "rule", "strokeWidth": 1.4, "color": "#000"}, "encoding": {"y": {"field": "lo", "type": "quantitative"}, "y2": {"field": "hi"}}},
  {"transform": [{"filter": "datum.k=='sm'"}], "mark": {"type": "tick", "orient": "horizontal", "size": 19, "thickness": 1.4, "color": "#000", "opacity": 1}, "encoding": {"y": {"field": "m", "type": "quantitative"}}},
  {"transform": [{"filter": "datum.k=='sm' && isValid(datum.lo)"}], "mark": {"type": "tick", "orient": "horizontal", "size": 8, "thickness": 1.4, "color": "#000", "opacity": 1}, "encoding": {"y": {"field": "lo", "type": "quantitative"}}},
  {"transform": [{"filter": "datum.k=='sm' && isValid(datum.hi)"}], "mark": {"type": "tick", "orient": "horizontal", "size": 8, "thickness": 1.4, "color": "#000", "opacity": 1}, "encoding": {"y": {"field": "hi", "type": "quantitative"}}},
  {"transform": [{"filter": "datum.k=='sg'"}], "mark": {"type": "rule", "strokeWidth": 2.2, "color": "#000"}, "encoding": {"x": {"field": "x1", "type": "quantitative"}, "x2": {"field": "x2"}, "y": {"field": "y", "type": "quantitative"}}},
  {"transform": [{"filter": "datum.k=='sg'"}], "mark": {"type": "text", "dy": -1, "baseline": "alphabetic", "fontSize": 15, "color": "#000"}, "encoding": {"x": {"field": "xm", "type": "quantitative"}, "y": {"field": "y", "type": "quantitative"}, "text": {"field": "t"}}}
 ]},
{"width": 157, "height": 119.7, "transform": [{"filter": "datum.p=='A22'"}],
 "encoding": {"x": {"field": "x", "type": "quantitative", "scale": {"domain": [0, 5.2], "nice": false, "zero": false}, "axis": {"values": [1.25, 3.95], "labels": false, "title": null}}},
 "layer": [
  {"transform": [{"filter": "datum.k=='pt'"}], "mark": {"type": "point", "size": 24, "strokeWidth": 1.3, "filled": false, "opacity": 1},
   "encoding": {"y": {"field": "v", "type": "quantitative", "scale": {"domain": [0, 200], "nice": false, "zero": false}, "axis": {"values": [50, 100, 150, 200], "tickCount": 10, "labelOverlap": false, "titleY": 48.9, "title": ["CXCL10", "pg / mL"]}},
    "color": {"field": "g", "type": "nominal", "scale": {"domain": ["WT", "KO"], "range": ["#000000", "#dc2a2f"]}, "legend": null},
    "shape": {"field": "g", "type": "nominal", "scale": {"domain": ["WT", "KO"], "range": ["circle", "square"]}, "legend": null},
    "fill": {"condition": {"test": "datum.g=='WT'", "value": "#000000"}, "value": "transparent"}}},
  {"transform": [{"filter": "datum.k=='sm' && isValid(datum.lo)"}], "mark": {"type": "rule", "strokeWidth": 1.4, "color": "#000"}, "encoding": {"y": {"field": "lo", "type": "quantitative"}, "y2": {"field": "hi"}}},
  {"transform": [{"filter": "datum.k=='sm'"}], "mark": {"type": "tick", "orient": "horizontal", "size": 19, "thickness": 1.4, "color": "#000", "opacity": 1}, "encoding": {"y": {"field": "m", "type": "quantitative"}}},
  {"transform": [{"filter": "datum.k=='sm' && isValid(datum.lo)"}], "mark": {"type": "tick", "orient": "horizontal", "size": 8, "thickness": 1.4, "color": "#000", "opacity": 1}, "encoding": {"y": {"field": "lo", "type": "quantitative"}}},
  {"transform": [{"filter": "datum.k=='sm' && isValid(datum.hi)"}], "mark": {"type": "tick", "orient": "horizontal", "size": 8, "thickness": 1.4, "color": "#000", "opacity": 1}, "encoding": {"y": {"field": "hi", "type": "quantitative"}}},
  {"transform": [{"filter": "datum.k=='sg'"}], "mark": {"type": "rule", "strokeWidth": 2.2, "color": "#000"}, "encoding": {"x": {"field": "x1", "type": "quantitative"}, "x2": {"field": "x2"}, "y": {"field": "y", "type": "quantitative"}}},
  {"transform": [{"filter": "datum.k=='sg'"}], "mark": {"type": "text", "dy": -1, "baseline": "alphabetic", "fontSize": 15, "color": "#000"}, "encoding": {"x": {"field": "xm", "type": "quantitative"}, "y": {"field": "y", "type": "quantitative"}, "text": {"field": "t"}}}
 ]},
{"width": 157, "height": 119.7, "transform": [{"filter": "datum.p=='A23'"}],
 "encoding": {"x": {"field": "x", "type": "quantitative", "scale": {"domain": [0, 5.2], "nice": false, "zero": false}, "axis": {"values": [1.25, 3.95], "labels": false, "title": null}}},
 "layer": [
  {"transform": [{"filter": "datum.k=='pt'"}], "mark": {"type": "point", "size": 24, "strokeWidth": 1.3, "filled": false, "opacity": 1},
   "encoding": {"y": {"field": "v", "type": "quantitative", "scale": {"domain": [0, 60], "nice": false, "zero": false}, "axis": {"values": [20, 40, 60], "tickCount": 10, "labelOverlap": false, "titleY": 43.9, "title": ["CXCL1", "pg / mL"]}},
    "color": {"field": "g", "type": "nominal", "scale": {"domain": ["WT", "KO"], "range": ["#000000", "#dc2a2f"]}, "legend": null},
    "shape": {"field": "g", "type": "nominal", "scale": {"domain": ["WT", "KO"], "range": ["circle", "square"]}, "legend": null},
    "fill": {"condition": {"test": "datum.g=='WT'", "value": "#000000"}, "value": "transparent"}}},
  {"transform": [{"filter": "datum.k=='sm' && isValid(datum.lo)"}], "mark": {"type": "rule", "strokeWidth": 1.4, "color": "#000"}, "encoding": {"y": {"field": "lo", "type": "quantitative"}, "y2": {"field": "hi"}}},
  {"transform": [{"filter": "datum.k=='sm'"}], "mark": {"type": "tick", "orient": "horizontal", "size": 19, "thickness": 1.4, "color": "#000", "opacity": 1}, "encoding": {"y": {"field": "m", "type": "quantitative"}}},
  {"transform": [{"filter": "datum.k=='sm' && isValid(datum.lo)"}], "mark": {"type": "tick", "orient": "horizontal", "size": 8, "thickness": 1.4, "color": "#000", "opacity": 1}, "encoding": {"y": {"field": "lo", "type": "quantitative"}}},
  {"transform": [{"filter": "datum.k=='sm' && isValid(datum.hi)"}], "mark": {"type": "tick", "orient": "horizontal", "size": 8, "thickness": 1.4, "color": "#000", "opacity": 1}, "encoding": {"y": {"field": "hi", "type": "quantitative"}}},
  {"transform": [{"filter": "datum.k=='sg'"}], "mark": {"type": "rule", "strokeWidth": 2.2, "color": "#000"}, "encoding": {"x": {"field": "x1", "type": "quantitative"}, "x2": {"field": "x2"}, "y": {"field": "y", "type": "quantitative"}}},
  {"transform": [{"filter": "datum.k=='sg'"}], "mark": {"type": "text", "dy": -1, "baseline": "alphabetic", "fontSize": 15, "color": "#000"}, "encoding": {"x": {"field": "xm", "type": "quantitative"}, "y": {"field": "y", "type": "quantitative"}, "text": {"field": "t"}}}
 ]},
{"width": 157, "height": 31.3, "data": {"values": [{"a": 1}]}, "mark": {"type": "point", "opacity": 0}, "encoding": {}},
{"width": 157, "height": 31.3, "data": {"values": [{"a": 1}]}, "mark": {"type": "point", "opacity": 0}, "encoding": {}},
{"width": 157, "height": 31.3, "data": {"values": [{"a": 1}]}, "mark": {"type": "point", "opacity": 0}, "encoding": {}},
{"width": 157, "height": 121.7, "transform": [{"filter": "datum.p=='A31'"}],
 "encoding": {"x": {"field": "x", "type": "quantitative", "scale": {"domain": [0, 5.2], "nice": false, "zero": false}, "axis": {"values": [1.25, 3.95], "title": null, "labelExpr": "datum.value<2?'mock':'HTNV'"}}},
 "layer": [
  {"transform": [{"filter": "datum.k=='pt'"}], "mark": {"type": "point", "size": 24, "strokeWidth": 1.3, "filled": false, "opacity": 1},
   "encoding": {"y": {"field": "v", "type": "quantitative", "scale": {"domain": [0, 30], "nice": false, "zero": false}, "axis": {"values": [10, 20, 30], "tickCount": 10, "labelOverlap": false, "titleY": 44.6, "title": ["IL-6", "pg / mL"]}},
    "color": {"field": "g", "type": "nominal", "scale": {"domain": ["WT", "KO"], "range": ["#000000", "#dc2a2f"]}, "legend": null},
    "shape": {"field": "g", "type": "nominal", "scale": {"domain": ["WT", "KO"], "range": ["circle", "square"]}, "legend": null},
    "fill": {"condition": {"test": "datum.g=='WT'", "value": "#000000"}, "value": "transparent"}}},
  {"transform": [{"filter": "datum.k=='sm' && isValid(datum.lo)"}], "mark": {"type": "rule", "strokeWidth": 1.4, "color": "#000"}, "encoding": {"y": {"field": "lo", "type": "quantitative"}, "y2": {"field": "hi"}}},
  {"transform": [{"filter": "datum.k=='sm'"}], "mark": {"type": "tick", "orient": "horizontal", "size": 19, "thickness": 1.4, "color": "#000", "opacity": 1}, "encoding": {"y": {"field": "m", "type": "quantitative"}}},
  {"transform": [{"filter": "datum.k=='sm' && isValid(datum.lo)"}], "mark": {"type": "tick", "orient": "horizontal", "size": 8, "thickness": 1.4, "color": "#000", "opacity": 1}, "encoding": {"y": {"field": "lo", "type": "quantitative"}}},
  {"transform": [{"filter": "datum.k=='sm' && isValid(datum.hi)"}], "mark": {"type": "tick", "orient": "horizontal", "size": 8, "thickness": 1.4, "color": "#000", "opacity": 1}, "encoding": {"y": {"field": "hi", "type": "quantitative"}}},
  {"transform": [{"filter": "datum.k=='sg'"}], "mark": {"type": "rule", "strokeWidth": 2.2, "color": "#000"}, "encoding": {"x": {"field": "x1", "type": "quantitative"}, "x2": {"field": "x2"}, "y": {"field": "y", "type": "quantitative"}}},
  {"transform": [{"filter": "datum.k=='sg'"}], "mark": {"type": "text", "dy": -1, "baseline": "alphabetic", "fontSize": 15, "color": "#000"}, "encoding": {"x": {"field": "xm", "type": "quantitative"}, "y": {"field": "y", "type": "quantitative"}, "text": {"field": "t"}}}
 ]},
{"width": 157, "height": 121.7, "transform": [{"filter": "datum.p=='A32'"}],
 "encoding": {"x": {"field": "x", "type": "quantitative", "scale": {"domain": [0, 5.2], "nice": false, "zero": false}, "axis": {"values": [1.25, 3.95], "title": null, "labelExpr": "datum.value<2?'mock':'HTNV'"}}},
 "layer": [
  {"transform": [{"filter": "datum.k=='pt'"}], "mark": {"type": "point", "size": 24, "strokeWidth": 1.3, "filled": false, "opacity": 1},
   "encoding": {"y": {"field": "v", "type": "quantitative", "scale": {"domain": [0, 25], "nice": false, "zero": false}, "axis": {"values": [5, 10, 15, 20, 25], "tickCount": 10, "labelOverlap": false, "titleY": 52.7, "title": ["CCL5", "pg / mL"]}},
    "color": {"field": "g", "type": "nominal", "scale": {"domain": ["WT", "KO"], "range": ["#000000", "#dc2a2f"]}, "legend": null},
    "shape": {"field": "g", "type": "nominal", "scale": {"domain": ["WT", "KO"], "range": ["circle", "square"]}, "legend": null},
    "fill": {"condition": {"test": "datum.g=='WT'", "value": "#000000"}, "value": "transparent"}}},
  {"transform": [{"filter": "datum.k=='sm' && isValid(datum.lo)"}], "mark": {"type": "rule", "strokeWidth": 1.4, "color": "#000"}, "encoding": {"y": {"field": "lo", "type": "quantitative"}, "y2": {"field": "hi"}}},
  {"transform": [{"filter": "datum.k=='sm'"}], "mark": {"type": "tick", "orient": "horizontal", "size": 19, "thickness": 1.4, "color": "#000", "opacity": 1}, "encoding": {"y": {"field": "m", "type": "quantitative"}}},
  {"transform": [{"filter": "datum.k=='sm' && isValid(datum.lo)"}], "mark": {"type": "tick", "orient": "horizontal", "size": 8, "thickness": 1.4, "color": "#000", "opacity": 1}, "encoding": {"y": {"field": "lo", "type": "quantitative"}}},
  {"transform": [{"filter": "datum.k=='sm' && isValid(datum.hi)"}], "mark": {"type": "tick", "orient": "horizontal", "size": 8, "thickness": 1.4, "color": "#000", "opacity": 1}, "encoding": {"y": {"field": "hi", "type": "quantitative"}}},
  {"transform": [{"filter": "datum.k=='sg'"}], "mark": {"type": "rule", "strokeWidth": 2.2, "color": "#000"}, "encoding": {"x": {"field": "x1", "type": "quantitative"}, "x2": {"field": "x2"}, "y": {"field": "y", "type": "quantitative"}}},
  {"transform": [{"filter": "datum.k=='sg'"}], "mark": {"type": "text", "dy": -1, "baseline": "alphabetic", "fontSize": 15, "color": "#000"}, "encoding": {"x": {"field": "xm", "type": "quantitative"}, "y": {"field": "y", "type": "quantitative"}, "text": {"field": "t"}}}
 ]},
{"width": 157, "height": 121.7, "transform": [{"filter": "datum.p=='A33'"}],
 "encoding": {"x": {"field": "x", "type": "quantitative", "scale": {"domain": [0, 5.2], "nice": false, "zero": false}, "axis": {"values": [1.25, 3.95], "title": null, "labelExpr": "datum.value<2?'mock':'HTNV'"}}},
 "layer": [
  {"transform": [{"filter": "datum.k=='pt'"}], "mark": {"type": "point", "size": 24, "strokeWidth": 1.3, "filled": false, "opacity": 1},
   "encoding": {"y": {"field": "v", "type": "quantitative", "scale": {"domain": [-200, 600], "nice": false, "zero": false}, "axis": {"values": [0, 200, 400, 600], "tickCount": 10, "labelOverlap": false, "titleY": 49.6, "title": ["CXCL9", "pg / mL"]}},
    "color": {"field": "g", "type": "nominal", "scale": {"domain": ["WT", "KO"], "range": ["#000000", "#dc2a2f"]}, "legend": null},
    "shape": {"field": "g", "type": "nominal", "scale": {"domain": ["WT", "KO"], "range": ["circle", "square"]}, "legend": null},
    "fill": {"condition": {"test": "datum.g=='WT'", "value": "#000000"}, "value": "transparent"}}},
  {"transform": [{"filter": "datum.k=='sm' && isValid(datum.lo)"}], "mark": {"type": "rule", "strokeWidth": 1.4, "color": "#000"}, "encoding": {"y": {"field": "lo", "type": "quantitative"}, "y2": {"field": "hi"}}},
  {"transform": [{"filter": "datum.k=='sm'"}], "mark": {"type": "tick", "orient": "horizontal", "size": 19, "thickness": 1.4, "color": "#000", "opacity": 1}, "encoding": {"y": {"field": "m", "type": "quantitative"}}},
  {"transform": [{"filter": "datum.k=='sm' && isValid(datum.lo)"}], "mark": {"type": "tick", "orient": "horizontal", "size": 8, "thickness": 1.4, "color": "#000", "opacity": 1}, "encoding": {"y": {"field": "lo", "type": "quantitative"}}},
  {"transform": [{"filter": "datum.k=='sm' && isValid(datum.hi)"}], "mark": {"type": "tick", "orient": "horizontal", "size": 8, "thickness": 1.4, "color": "#000", "opacity": 1}, "encoding": {"y": {"field": "hi", "type": "quantitative"}}},
  {"transform": [{"filter": "datum.k=='sg'"}], "mark": {"type": "rule", "strokeWidth": 2.2, "color": "#000"}, "encoding": {"x": {"field": "x1", "type": "quantitative"}, "x2": {"field": "x2"}, "y": {"field": "y", "type": "quantitative"}}},
  {"transform": [{"filter": "datum.k=='sg'"}], "mark": {"type": "text", "dy": -1, "baseline": "alphabetic", "fontSize": 15, "color": "#000"}, "encoding": {"x": {"field": "xm", "type": "quantitative"}, "y": {"field": "y", "type": "quantitative"}, "text": {"field": "t"}}}
 ]},
{"width": 157, "height": 101.7, "data": {"values": [{"a": 1}]}, "mark": {"type": "point", "opacity": 0}, "encoding": {}},
{"width": 157, "height": 101.7, "data": {"values": [{"a": 1}]}, "mark": {"type": "point", "opacity": 0}, "encoding": {}},
{"width": 157, "height": 101.7, "data": {"values": [{"a": 1}]}, "mark": {"type": "point", "opacity": 0}, "encoding": {}},
{"width": 157, "height": 121.3, "transform": [{"filter": "datum.p=='B1'"}],
 "encoding": {"x": {"field": "x", "type": "quantitative", "scale": {"domain": [0, 5.2], "nice": false, "zero": false}, "axis": {"values": [1.25, 3.95], "title": null, "labelExpr": "datum.value<2?'mock':'HTNV'"}}},
 "layer": [
  {"transform": [{"filter": "datum.k=='pt'"}], "mark": {"type": "point", "size": 24, "strokeWidth": 1.3, "filled": false, "opacity": 1},
   "encoding": {"y": {"field": "v", "type": "quantitative", "scale": {"domain": [0, 800], "nice": false, "zero": false}, "axis": {"values": [200, 400, 600, 800], "tickCount": 10, "labelOverlap": false, "titleY": 49.5, "title": ["IFNγ", "pg / mL"]}},
    "color": {"field": "g", "type": "nominal", "scale": {"domain": ["WT", "KO"], "range": ["#000000", "#dc2a2f"]},
      "legend": {"title": "B", "orient": "none", "legendX": -52, "legendY": -36, "direction": "horizontal", "columns": 2, "titleOrient": "left", "titleFontSize": 20, "titleFontWeight": "normal", "titlePadding": 209, "labelFontSize": 15, "labelOffset": 6, "columnPadding": 154, "symbolSize": 45, "symbolStrokeWidth": 2.5, "labelExpr": "datum.value=='KO'?'Ifnar1⁻/⁻':'WT'", "labelFontStyle": {"expr": "datum.value=='KO'?'italic':'normal'"}, "encode": {"labels": {"fontStyle": {"value": {"expr": "datum.value=='KO'?'italic':'normal'"}}}, "symbols": {"fill": {"value": "transparent"}}}}},
    "shape": {"field": "g", "type": "nominal", "scale": {"domain": ["WT", "KO"], "range": ["circle", "square"]}},
    "fill": {"condition": {"test": "datum.g=='WT'", "value": "#000000"}, "value": "transparent"}}},
  {"transform": [{"filter": "datum.k=='sm' && isValid(datum.lo)"}], "mark": {"type": "rule", "strokeWidth": 1.4, "color": "#000"}, "encoding": {"y": {"field": "lo", "type": "quantitative"}, "y2": {"field": "hi"}}},
  {"transform": [{"filter": "datum.k=='sm'"}], "mark": {"type": "tick", "orient": "horizontal", "size": 19, "thickness": 1.4, "color": "#000", "opacity": 1}, "encoding": {"y": {"field": "m", "type": "quantitative"}}},
  {"transform": [{"filter": "datum.k=='sm' && isValid(datum.lo)"}], "mark": {"type": "tick", "orient": "horizontal", "size": 8, "thickness": 1.4, "color": "#000", "opacity": 1}, "encoding": {"y": {"field": "lo", "type": "quantitative"}}},
  {"transform": [{"filter": "datum.k=='sm' && isValid(datum.hi)"}], "mark": {"type": "tick", "orient": "horizontal", "size": 8, "thickness": 1.4, "color": "#000", "opacity": 1}, "encoding": {"y": {"field": "hi", "type": "quantitative"}}}
 ]},
{"width": 157, "height": 121.3, "transform": [{"filter": "datum.p=='B2'"}],
 "encoding": {"x": {"field": "x", "type": "quantitative", "scale": {"domain": [0, 5.2], "nice": false, "zero": false}, "axis": {"values": [1.25, 3.95], "title": null, "labelExpr": "datum.value<2?'mock':'HTNV'"}}},
 "layer": [
  {"transform": [{"filter": "datum.k=='pt'"}], "mark": {"type": "point", "size": 24, "strokeWidth": 1.3, "filled": false, "opacity": 1},
   "encoding": {"y": {"field": "v", "type": "quantitative", "scale": {"domain": [0, 400], "nice": false, "zero": false}, "axis": {"values": [100, 200, 300, 400], "tickCount": 10, "labelOverlap": false, "titleY": 49.5, "title": ["CXCL10", "pg / mL"]}},
    "color": {"field": "g", "type": "nominal", "scale": {"domain": ["WT", "KO"], "range": ["#000000", "#dc2a2f"]}, "legend": null},
    "shape": {"field": "g", "type": "nominal", "scale": {"domain": ["WT", "KO"], "range": ["circle", "square"]}, "legend": null},
    "fill": {"condition": {"test": "datum.g=='WT'", "value": "#000000"}, "value": "transparent"}}},
  {"transform": [{"filter": "datum.k=='sm' && isValid(datum.lo)"}], "mark": {"type": "rule", "strokeWidth": 1.4, "color": "#000"}, "encoding": {"y": {"field": "lo", "type": "quantitative"}, "y2": {"field": "hi"}}},
  {"transform": [{"filter": "datum.k=='sm'"}], "mark": {"type": "tick", "orient": "horizontal", "size": 19, "thickness": 1.4, "color": "#000", "opacity": 1}, "encoding": {"y": {"field": "m", "type": "quantitative"}}},
  {"transform": [{"filter": "datum.k=='sm' && isValid(datum.lo)"}], "mark": {"type": "tick", "orient": "horizontal", "size": 8, "thickness": 1.4, "color": "#000", "opacity": 1}, "encoding": {"y": {"field": "lo", "type": "quantitative"}}},
  {"transform": [{"filter": "datum.k=='sm' && isValid(datum.hi)"}], "mark": {"type": "tick", "orient": "horizontal", "size": 8, "thickness": 1.4, "color": "#000", "opacity": 1}, "encoding": {"y": {"field": "hi", "type": "quantitative"}}}
 ]},
{"width": 157, "height": 121.3, "transform": [{"filter": "datum.p=='B3'"}],
 "encoding": {"x": {"field": "x", "type": "quantitative", "scale": {"domain": [0, 5.2], "nice": false, "zero": false}, "axis": {"values": [1.25, 3.95], "title": null, "labelExpr": "datum.value<2?'mock':'HTNV'"}}},
 "layer": [
  {"transform": [{"filter": "datum.k=='pt'"}], "mark": {"type": "point", "size": 24, "strokeWidth": 1.3, "filled": false, "opacity": 1},
   "encoding": {"y": {"field": "v", "type": "quantitative", "scale": {"domain": [0, 6000], "nice": false, "zero": false}, "axis": {"values": [2000, 4000, 6000], "format": "d", "tickCount": 10, "labelOverlap": false, "titleY": 44.4, "title": ["CXCL9", "pg / mL"]}},
    "color": {"field": "g", "type": "nominal", "scale": {"domain": ["WT", "KO"], "range": ["#000000", "#dc2a2f"]}, "legend": null},
    "shape": {"field": "g", "type": "nominal", "scale": {"domain": ["WT", "KO"], "range": ["circle", "square"]}, "legend": null},
    "fill": {"condition": {"test": "datum.g=='WT'", "value": "#000000"}, "value": "transparent"}}},
  {"transform": [{"filter": "datum.k=='sm' && isValid(datum.lo)"}], "mark": {"type": "rule", "strokeWidth": 1.4, "color": "#000"}, "encoding": {"y": {"field": "lo", "type": "quantitative"}, "y2": {"field": "hi"}}},
  {"transform": [{"filter": "datum.k=='sm'"}], "mark": {"type": "tick", "orient": "horizontal", "size": 19, "thickness": 1.4, "color": "#000", "opacity": 1}, "encoding": {"y": {"field": "m", "type": "quantitative"}}},
  {"transform": [{"filter": "datum.k=='sm' && isValid(datum.lo)"}], "mark": {"type": "tick", "orient": "horizontal", "size": 8, "thickness": 1.4, "color": "#000", "opacity": 1}, "encoding": {"y": {"field": "lo", "type": "quantitative"}}},
  {"transform": [{"filter": "datum.k=='sm' && isValid(datum.hi)"}], "mark": {"type": "tick", "orient": "horizontal", "size": 8, "thickness": 1.4, "color": "#000", "opacity": 1}, "encoding": {"y": {"field": "hi", "type": "quantitative"}}}
 ]},
{"width": 157, "height": 125, "data": {"values": [{"a": 1}]}, "mark": {"type": "point", "opacity": 0}, "encoding": {}},
{"width": 157, "height": 125, "data": {"values": [{"a": 1}]}, "mark": {"type": "point", "opacity": 0}, "encoding": {}},
{"width": 157, "height": 125, "data": {"values": [{"a": 1}]}, "mark": {"type": "point", "opacity": 0}, "encoding": {}},
{"width": 157, "height": 121.5, "transform": [{"filter": "datum.p=='C11'"}],
 "encoding": {"x": {"field": "x", "type": "quantitative", "scale": {"domain": [0, 5.2], "nice": false, "zero": false}, "axis": {"values": [1.25, 3.95], "labels": false, "title": null}}},
 "layer": [
  {"transform": [{"filter": "datum.k=='pt'"}], "mark": {"type": "point", "size": 24, "strokeWidth": 1.3, "filled": false, "opacity": 1},
   "encoding": {"y": {"field": "v", "type": "quantitative", "scale": {"domain": [0, 60], "nice": false, "zero": false}, "axis": {"values": [20, 40, 60], "tickCount": 10, "labelOverlap": false, "titleY": 44.5, "title": ["IFNγ", "pg / mL"]}},
    "color": {"field": "g", "type": "nominal", "scale": {"domain": ["WT", "KO"], "range": ["#000000", "#dc2a2f"]},
      "legend": {"title": "C", "orient": "none", "legendX": -52, "legendY": -44, "direction": "horizontal", "columns": 2, "titleOrient": "left", "titleFontSize": 20, "titleFontWeight": "normal", "titlePadding": 204, "labelFontSize": 15, "labelOffset": 6, "columnPadding": 154, "symbolSize": 45, "symbolStrokeWidth": 2.5, "labelExpr": "datum.value=='KO'?'Ifnar1⁻/⁻':'WT'", "labelFontStyle": {"expr": "datum.value=='KO'?'italic':'normal'"}, "encode": {"labels": {"fontStyle": {"value": {"expr": "datum.value=='KO'?'italic':'normal'"}}}, "symbols": {"fill": {"value": "transparent"}}}}},
    "shape": {"field": "g", "type": "nominal", "scale": {"domain": ["WT", "KO"], "range": ["circle", "square"]}},
    "fill": {"condition": {"test": "datum.g=='WT'", "value": "#000000"}, "value": "transparent"}}},
  {"transform": [{"filter": "datum.k=='sm' && isValid(datum.lo)"}], "mark": {"type": "rule", "strokeWidth": 1.4, "color": "#000"}, "encoding": {"y": {"field": "lo", "type": "quantitative"}, "y2": {"field": "hi"}}},
  {"transform": [{"filter": "datum.k=='sm'"}], "mark": {"type": "tick", "orient": "horizontal", "size": 19, "thickness": 1.4, "color": "#000", "opacity": 1}, "encoding": {"y": {"field": "m", "type": "quantitative"}}},
  {"transform": [{"filter": "datum.k=='sm' && isValid(datum.lo)"}], "mark": {"type": "tick", "orient": "horizontal", "size": 8, "thickness": 1.4, "color": "#000", "opacity": 1}, "encoding": {"y": {"field": "lo", "type": "quantitative"}}},
  {"transform": [{"filter": "datum.k=='sm' && isValid(datum.hi)"}], "mark": {"type": "tick", "orient": "horizontal", "size": 8, "thickness": 1.4, "color": "#000", "opacity": 1}, "encoding": {"y": {"field": "hi", "type": "quantitative"}}},
  {"transform": [{"filter": "datum.k=='sg'"}], "mark": {"type": "rule", "strokeWidth": 2.2, "color": "#000"}, "encoding": {"x": {"field": "x1", "type": "quantitative"}, "x2": {"field": "x2"}, "y": {"field": "y", "type": "quantitative"}}},
  {"transform": [{"filter": "datum.k=='sg'"}], "mark": {"type": "text", "dy": -1, "baseline": "alphabetic", "fontSize": 15, "color": "#000"}, "encoding": {"x": {"field": "xm", "type": "quantitative"}, "y": {"field": "y", "type": "quantitative"}, "text": {"field": "t"}}}
 ]},
{"width": 157, "height": 121.5, "transform": [{"filter": "datum.p=='C12'"}],
 "encoding": {"x": {"field": "x", "type": "quantitative", "scale": {"domain": [0, 5.2], "nice": false, "zero": false}, "axis": {"values": [1.25, 3.95], "labels": false, "title": null}}},
 "layer": [
  {"transform": [{"filter": "datum.k=='pt'"}], "mark": {"type": "point", "size": 24, "strokeWidth": 1.3, "filled": false, "opacity": 1},
   "encoding": {"y": {"field": "v", "type": "quantitative", "scale": {"domain": [0, 250], "nice": false, "zero": false}, "axis": {"values": [50, 100, 150, 200, 250], "tickCount": 10, "labelOverlap": false, "titleY": 52.6, "title": ["IL-1α", "pg / mL"]}},
    "color": {"field": "g", "type": "nominal", "scale": {"domain": ["WT", "KO"], "range": ["#000000", "#dc2a2f"]}, "legend": null},
    "shape": {"field": "g", "type": "nominal", "scale": {"domain": ["WT", "KO"], "range": ["circle", "square"]}, "legend": null},
    "fill": {"condition": {"test": "datum.g=='WT'", "value": "#000000"}, "value": "transparent"}}},
  {"transform": [{"filter": "datum.k=='sm' && isValid(datum.lo)"}], "mark": {"type": "rule", "strokeWidth": 1.4, "color": "#000"}, "encoding": {"y": {"field": "lo", "type": "quantitative"}, "y2": {"field": "hi"}}},
  {"transform": [{"filter": "datum.k=='sm'"}], "mark": {"type": "tick", "orient": "horizontal", "size": 19, "thickness": 1.4, "color": "#000", "opacity": 1}, "encoding": {"y": {"field": "m", "type": "quantitative"}}},
  {"transform": [{"filter": "datum.k=='sm' && isValid(datum.lo)"}], "mark": {"type": "tick", "orient": "horizontal", "size": 8, "thickness": 1.4, "color": "#000", "opacity": 1}, "encoding": {"y": {"field": "lo", "type": "quantitative"}}},
  {"transform": [{"filter": "datum.k=='sm' && isValid(datum.hi)"}], "mark": {"type": "tick", "orient": "horizontal", "size": 8, "thickness": 1.4, "color": "#000", "opacity": 1}, "encoding": {"y": {"field": "hi", "type": "quantitative"}}}
 ]},
{"width": 157, "height": 121.5, "transform": [{"filter": "datum.p=='C13'"}],
 "encoding": {"x": {"field": "x", "type": "quantitative", "scale": {"domain": [0, 5.2], "nice": false, "zero": false}, "axis": {"values": [1.25, 3.95], "labels": false, "title": null}}},
 "layer": [
  {"transform": [{"filter": "datum.k=='pt'"}], "mark": {"type": "point", "size": 24, "strokeWidth": 1.3, "filled": false, "opacity": 1},
   "encoding": {"y": {"field": "v", "type": "quantitative", "scale": {"domain": [0, 80], "nice": false, "zero": false}, "axis": {"values": [20, 40, 60, 80], "tickCount": 10, "labelOverlap": false, "titleY": 49.6, "title": ["IL-1β", "pg / mL"]}},
    "color": {"field": "g", "type": "nominal", "scale": {"domain": ["WT", "KO"], "range": ["#000000", "#dc2a2f"]}, "legend": null},
    "shape": {"field": "g", "type": "nominal", "scale": {"domain": ["WT", "KO"], "range": ["circle", "square"]}, "legend": null},
    "fill": {"condition": {"test": "datum.g=='WT'", "value": "#000000"}, "value": "transparent"}}},
  {"transform": [{"filter": "datum.k=='sm' && isValid(datum.lo)"}], "mark": {"type": "rule", "strokeWidth": 1.4, "color": "#000"}, "encoding": {"y": {"field": "lo", "type": "quantitative"}, "y2": {"field": "hi"}}},
  {"transform": [{"filter": "datum.k=='sm'"}], "mark": {"type": "tick", "orient": "horizontal", "size": 19, "thickness": 1.4, "color": "#000", "opacity": 1}, "encoding": {"y": {"field": "m", "type": "quantitative"}}},
  {"transform": [{"filter": "datum.k=='sm' && isValid(datum.lo)"}], "mark": {"type": "tick", "orient": "horizontal", "size": 8, "thickness": 1.4, "color": "#000", "opacity": 1}, "encoding": {"y": {"field": "lo", "type": "quantitative"}}},
  {"transform": [{"filter": "datum.k=='sm' && isValid(datum.hi)"}], "mark": {"type": "tick", "orient": "horizontal", "size": 8, "thickness": 1.4, "color": "#000", "opacity": 1}, "encoding": {"y": {"field": "hi", "type": "quantitative"}}}
 ]},
{"width": 157, "height": 35.2, "data": {"values": [{"a": 1}]}, "mark": {"type": "point", "opacity": 0}, "encoding": {}},
{"width": 157, "height": 35.2, "data": {"values": [{"a": 1}]}, "mark": {"type": "point", "opacity": 0}, "encoding": {}},
{"width": 157, "height": 35.2, "data": {"values": [{"a": 1}]}, "mark": {"type": "point", "opacity": 0}, "encoding": {}},
{"width": 157, "height": 123.3, "transform": [{"filter": "datum.p=='C21'"}],
 "encoding": {"x": {"field": "x", "type": "quantitative", "scale": {"domain": [0, 5.2], "nice": false, "zero": false}, "axis": {"values": [1.25, 3.95], "labels": false, "title": null}}},
 "layer": [
  {"transform": [{"filter": "datum.k=='pt'"}], "mark": {"type": "point", "size": 24, "strokeWidth": 1.3, "filled": false, "opacity": 1},
   "encoding": {"y": {"field": "v", "type": "quantitative", "scale": {"domain": [0, 400], "nice": false, "zero": false}, "axis": {"values": [100, 200, 300, 400], "tickCount": 10, "labelOverlap": false, "titleY": 50.2, "title": ["IL-15", "pg / mL"]}},
    "color": {"field": "g", "type": "nominal", "scale": {"domain": ["WT", "KO"], "range": ["#000000", "#dc2a2f"]}, "legend": null},
    "shape": {"field": "g", "type": "nominal", "scale": {"domain": ["WT", "KO"], "range": ["circle", "square"]}, "legend": null},
    "fill": {"condition": {"test": "datum.g=='WT'", "value": "#000000"}, "value": "transparent"}}},
  {"transform": [{"filter": "datum.k=='sm' && isValid(datum.lo)"}], "mark": {"type": "rule", "strokeWidth": 1.4, "color": "#000"}, "encoding": {"y": {"field": "lo", "type": "quantitative"}, "y2": {"field": "hi"}}},
  {"transform": [{"filter": "datum.k=='sm'"}], "mark": {"type": "tick", "orient": "horizontal", "size": 19, "thickness": 1.4, "color": "#000", "opacity": 1}, "encoding": {"y": {"field": "m", "type": "quantitative"}}},
  {"transform": [{"filter": "datum.k=='sm' && isValid(datum.lo)"}], "mark": {"type": "tick", "orient": "horizontal", "size": 8, "thickness": 1.4, "color": "#000", "opacity": 1}, "encoding": {"y": {"field": "lo", "type": "quantitative"}}},
  {"transform": [{"filter": "datum.k=='sm' && isValid(datum.hi)"}], "mark": {"type": "tick", "orient": "horizontal", "size": 8, "thickness": 1.4, "color": "#000", "opacity": 1}, "encoding": {"y": {"field": "hi", "type": "quantitative"}}},
  {"transform": [{"filter": "datum.k=='sg'"}], "mark": {"type": "rule", "strokeWidth": 2.2, "color": "#000"}, "encoding": {"x": {"field": "x1", "type": "quantitative"}, "x2": {"field": "x2"}, "y": {"field": "y", "type": "quantitative"}}},
  {"transform": [{"filter": "datum.k=='sg'"}], "mark": {"type": "text", "dy": -1, "baseline": "alphabetic", "fontSize": 15, "color": "#000"}, "encoding": {"x": {"field": "xm", "type": "quantitative"}, "y": {"field": "y", "type": "quantitative"}, "text": {"field": "t"}}}
 ]},
{"width": 157, "height": 123.3, "transform": [{"filter": "datum.p=='C22'"}],
 "encoding": {"x": {"field": "x", "type": "quantitative", "scale": {"domain": [0, 5.2], "nice": false, "zero": false}, "axis": {"values": [1.25, 3.95], "labels": false, "title": null}}},
 "layer": [
  {"transform": [{"filter": "datum.k=='pt'"}], "mark": {"type": "point", "size": 24, "strokeWidth": 1.3, "filled": false, "opacity": 1},
   "encoding": {"y": {"field": "v", "type": "quantitative", "scale": {"domain": [0, 150], "nice": false, "zero": false}, "axis": {"values": [50, 100, 150], "tickCount": 10, "labelOverlap": false, "titleY": 45.1, "title": ["CXCL10", "pg / mL"]}},
    "color": {"field": "g", "type": "nominal", "scale": {"domain": ["WT", "KO"], "range": ["#000000", "#dc2a2f"]}, "legend": null},
    "shape": {"field": "g", "type": "nominal", "scale": {"domain": ["WT", "KO"], "range": ["circle", "square"]}, "legend": null},
    "fill": {"condition": {"test": "datum.g=='WT'", "value": "#000000"}, "value": "transparent"}}},
  {"transform": [{"filter": "datum.k=='sm' && isValid(datum.lo)"}], "mark": {"type": "rule", "strokeWidth": 1.4, "color": "#000"}, "encoding": {"y": {"field": "lo", "type": "quantitative"}, "y2": {"field": "hi"}}},
  {"transform": [{"filter": "datum.k=='sm'"}], "mark": {"type": "tick", "orient": "horizontal", "size": 19, "thickness": 1.4, "color": "#000", "opacity": 1}, "encoding": {"y": {"field": "m", "type": "quantitative"}}},
  {"transform": [{"filter": "datum.k=='sm' && isValid(datum.lo)"}], "mark": {"type": "tick", "orient": "horizontal", "size": 8, "thickness": 1.4, "color": "#000", "opacity": 1}, "encoding": {"y": {"field": "lo", "type": "quantitative"}}},
  {"transform": [{"filter": "datum.k=='sm' && isValid(datum.hi)"}], "mark": {"type": "tick", "orient": "horizontal", "size": 8, "thickness": 1.4, "color": "#000", "opacity": 1}, "encoding": {"y": {"field": "hi", "type": "quantitative"}}},
  {"transform": [{"filter": "datum.k=='sg'"}], "mark": {"type": "rule", "strokeWidth": 2.2, "color": "#000"}, "encoding": {"x": {"field": "x1", "type": "quantitative"}, "x2": {"field": "x2"}, "y": {"field": "y", "type": "quantitative"}}},
  {"transform": [{"filter": "datum.k=='sg'"}], "mark": {"type": "text", "dy": -1, "baseline": "alphabetic", "fontSize": 15, "color": "#000"}, "encoding": {"x": {"field": "xm", "type": "quantitative"}, "y": {"field": "y", "type": "quantitative"}, "text": {"field": "t"}}}
 ]},
{"width": 157, "height": 123.3, "transform": [{"filter": "datum.p=='C23'"}],
 "encoding": {"x": {"field": "x", "type": "quantitative", "scale": {"domain": [0, 5.2], "nice": false, "zero": false}, "axis": {"values": [1.25, 3.95], "labels": false, "title": null}}},
 "layer": [
  {"transform": [{"filter": "datum.k=='pt'"}], "mark": {"type": "point", "size": 24, "strokeWidth": 1.3, "filled": false, "opacity": 1},
   "encoding": {"y": {"field": "v", "type": "quantitative", "scale": {"domain": [0, 150], "nice": false, "zero": false}, "axis": {"values": [50, 100, 150], "tickCount": 10, "labelOverlap": false, "titleY": 45.1, "title": ["CXCL1", "pg / mL"]}},
    "color": {"field": "g", "type": "nominal", "scale": {"domain": ["WT", "KO"], "range": ["#000000", "#dc2a2f"]}, "legend": null},
    "shape": {"field": "g", "type": "nominal", "scale": {"domain": ["WT", "KO"], "range": ["circle", "square"]}, "legend": null},
    "fill": {"condition": {"test": "datum.g=='WT'", "value": "#000000"}, "value": "transparent"}}},
  {"transform": [{"filter": "datum.k=='sm' && isValid(datum.lo)"}], "mark": {"type": "rule", "strokeWidth": 1.4, "color": "#000"}, "encoding": {"y": {"field": "lo", "type": "quantitative"}, "y2": {"field": "hi"}}},
  {"transform": [{"filter": "datum.k=='sm'"}], "mark": {"type": "tick", "orient": "horizontal", "size": 19, "thickness": 1.4, "color": "#000", "opacity": 1}, "encoding": {"y": {"field": "m", "type": "quantitative"}}},
  {"transform": [{"filter": "datum.k=='sm' && isValid(datum.lo)"}], "mark": {"type": "tick", "orient": "horizontal", "size": 8, "thickness": 1.4, "color": "#000", "opacity": 1}, "encoding": {"y": {"field": "lo", "type": "quantitative"}}},
  {"transform": [{"filter": "datum.k=='sm' && isValid(datum.hi)"}], "mark": {"type": "tick", "orient": "horizontal", "size": 8, "thickness": 1.4, "color": "#000", "opacity": 1}, "encoding": {"y": {"field": "hi", "type": "quantitative"}}},
  {"transform": [{"filter": "datum.k=='sg'"}], "mark": {"type": "rule", "strokeWidth": 2.2, "color": "#000"}, "encoding": {"x": {"field": "x1", "type": "quantitative"}, "x2": {"field": "x2"}, "y": {"field": "y", "type": "quantitative"}}},
  {"transform": [{"filter": "datum.k=='sg'"}], "mark": {"type": "text", "dy": -1, "baseline": "alphabetic", "fontSize": 15, "color": "#000"}, "encoding": {"x": {"field": "xm", "type": "quantitative"}, "y": {"field": "y", "type": "quantitative"}, "text": {"field": "t"}}}
 ]},
{"width": 157, "height": 40.7, "data": {"values": [{"a": 1}]}, "mark": {"type": "point", "opacity": 0}, "encoding": {}},
{"width": 157, "height": 40.7, "data": {"values": [{"a": 1}]}, "mark": {"type": "point", "opacity": 0}, "encoding": {}},
{"width": 157, "height": 40.7, "data": {"values": [{"a": 1}]}, "mark": {"type": "point", "opacity": 0}, "encoding": {}},
{"width": 157, "height": 122, "transform": [{"filter": "datum.p=='C31'"}],
 "encoding": {"x": {"field": "x", "type": "quantitative", "scale": {"domain": [0, 5.2], "nice": false, "zero": false}, "axis": {"values": [1.25, 3.95], "title": null, "labelExpr": "datum.value<2?'mock':'HTNV'"}}},
 "layer": [
  {"transform": [{"filter": "datum.k=='pt'"}], "mark": {"type": "point", "size": 24, "strokeWidth": 1.3, "filled": false, "opacity": 1},
   "encoding": {"y": {"field": "v", "type": "quantitative", "scale": {"domain": [0, 30], "nice": false, "zero": false}, "axis": {"values": [10, 20, 30], "tickCount": 10, "labelOverlap": false, "titleY": 44.7, "title": ["IL-6", "pg / mL"]}},
    "color": {"field": "g", "type": "nominal", "scale": {"domain": ["WT", "KO"], "range": ["#000000", "#dc2a2f"]}, "legend": null},
    "shape": {"field": "g", "type": "nominal", "scale": {"domain": ["WT", "KO"], "range": ["circle", "square"]}, "legend": null},
    "fill": {"condition": {"test": "datum.g=='WT'", "value": "#000000"}, "value": "transparent"}}},
  {"transform": [{"filter": "datum.k=='sm' && isValid(datum.lo)"}], "mark": {"type": "rule", "strokeWidth": 1.4, "color": "#000"}, "encoding": {"y": {"field": "lo", "type": "quantitative"}, "y2": {"field": "hi"}}},
  {"transform": [{"filter": "datum.k=='sm'"}], "mark": {"type": "tick", "orient": "horizontal", "size": 19, "thickness": 1.4, "color": "#000", "opacity": 1}, "encoding": {"y": {"field": "m", "type": "quantitative"}}},
  {"transform": [{"filter": "datum.k=='sm' && isValid(datum.lo)"}], "mark": {"type": "tick", "orient": "horizontal", "size": 8, "thickness": 1.4, "color": "#000", "opacity": 1}, "encoding": {"y": {"field": "lo", "type": "quantitative"}}},
  {"transform": [{"filter": "datum.k=='sm' && isValid(datum.hi)"}], "mark": {"type": "tick", "orient": "horizontal", "size": 8, "thickness": 1.4, "color": "#000", "opacity": 1}, "encoding": {"y": {"field": "hi", "type": "quantitative"}}},
  {"transform": [{"filter": "datum.k=='sg'"}], "mark": {"type": "rule", "strokeWidth": 2.2, "color": "#000"}, "encoding": {"x": {"field": "x1", "type": "quantitative"}, "x2": {"field": "x2"}, "y": {"field": "y", "type": "quantitative"}}},
  {"transform": [{"filter": "datum.k=='sg'"}], "mark": {"type": "text", "dy": -1, "baseline": "alphabetic", "fontSize": 15, "color": "#000"}, "encoding": {"x": {"field": "xm", "type": "quantitative"}, "y": {"field": "y", "type": "quantitative"}, "text": {"field": "t"}}}
 ]},
{"width": 157, "height": 122, "transform": [{"filter": "datum.p=='C32'"}],
 "encoding": {"x": {"field": "x", "type": "quantitative", "scale": {"domain": [0, 5.2], "nice": false, "zero": false}, "axis": {"values": [1.25, 3.95], "title": null, "labelExpr": "datum.value<2?'mock':'HTNV'"}}},
 "layer": [
  {"transform": [{"filter": "datum.k=='pt'"}], "mark": {"type": "point", "size": 24, "strokeWidth": 1.3, "filled": false, "opacity": 1},
   "encoding": {"y": {"field": "v", "type": "quantitative", "scale": {"domain": [0, 15], "nice": false, "zero": false}, "axis": {"values": [5, 10, 15], "tickCount": 10, "labelOverlap": false, "titleY": 44.7, "title": ["CCL5", "pg / mL"]}},
    "color": {"field": "g", "type": "nominal", "scale": {"domain": ["WT", "KO"], "range": ["#000000", "#dc2a2f"]}, "legend": null},
    "shape": {"field": "g", "type": "nominal", "scale": {"domain": ["WT", "KO"], "range": ["circle", "square"]}, "legend": null},
    "fill": {"condition": {"test": "datum.g=='WT'", "value": "#000000"}, "value": "transparent"}}},
  {"transform": [{"filter": "datum.k=='sm' && isValid(datum.lo)"}], "mark": {"type": "rule", "strokeWidth": 1.4, "color": "#000"}, "encoding": {"y": {"field": "lo", "type": "quantitative"}, "y2": {"field": "hi"}}},
  {"transform": [{"filter": "datum.k=='sm'"}], "mark": {"type": "tick", "orient": "horizontal", "size": 19, "thickness": 1.4, "color": "#000", "opacity": 1}, "encoding": {"y": {"field": "m", "type": "quantitative"}}},
  {"transform": [{"filter": "datum.k=='sm' && isValid(datum.lo)"}], "mark": {"type": "tick", "orient": "horizontal", "size": 8, "thickness": 1.4, "color": "#000", "opacity": 1}, "encoding": {"y": {"field": "lo", "type": "quantitative"}}},
  {"transform": [{"filter": "datum.k=='sm' && isValid(datum.hi)"}], "mark": {"type": "tick", "orient": "horizontal", "size": 8, "thickness": 1.4, "color": "#000", "opacity": 1}, "encoding": {"y": {"field": "hi", "type": "quantitative"}}},
  {"transform": [{"filter": "datum.k=='sg'"}], "mark": {"type": "rule", "strokeWidth": 2.2, "color": "#000"}, "encoding": {"x": {"field": "x1", "type": "quantitative"}, "x2": {"field": "x2"}, "y": {"field": "y", "type": "quantitative"}}},
  {"transform": [{"filter": "datum.k=='sg'"}], "mark": {"type": "text", "dy": -2, "baseline": "alphabetic", "fontSize": 13, "color": "#000"}, "encoding": {"x": {"field": "xm", "type": "quantitative"}, "y": {"field": "y", "type": "quantitative"}, "text": {"field": "t"}}}
 ]},
{"width": 157, "height": 122, "transform": [{"filter": "datum.p=='C33'"}],
 "encoding": {"x": {"field": "x", "type": "quantitative", "scale": {"domain": [0, 5.2], "nice": false, "zero": false}, "axis": {"values": [1.25, 3.95], "title": null, "labelExpr": "datum.value<2?'mock':'HTNV'"}}},
 "layer": [
  {"transform": [{"filter": "datum.k=='pt'"}], "mark": {"type": "point", "size": 24, "strokeWidth": 1.3, "filled": false, "opacity": 1},
   "encoding": {"y": {"field": "v", "type": "quantitative", "scale": {"domain": [0, 10], "nice": false, "zero": false}, "axis": {"values": [2, 4, 6, 8, 10], "tickCount": 10, "labelOverlap": false, "titleY": 52.8, "title": ["TNFα", "pg / mL"]}},
    "color": {"field": "g", "type": "nominal", "scale": {"domain": ["WT", "KO"], "range": ["#000000", "#dc2a2f"]}, "legend": null},
    "shape": {"field": "g", "type": "nominal", "scale": {"domain": ["WT", "KO"], "range": ["circle", "square"]}, "legend": null},
    "fill": {"condition": {"test": "datum.g=='WT'", "value": "#000000"}, "value": "transparent"}}},
  {"transform": [{"filter": "datum.k=='sm' && isValid(datum.lo)"}], "mark": {"type": "rule", "strokeWidth": 1.4, "color": "#000"}, "encoding": {"y": {"field": "lo", "type": "quantitative"}, "y2": {"field": "hi"}}},
  {"transform": [{"filter": "datum.k=='sm'"}], "mark": {"type": "tick", "orient": "horizontal", "size": 19, "thickness": 1.4, "color": "#000", "opacity": 1}, "encoding": {"y": {"field": "m", "type": "quantitative"}}},
  {"transform": [{"filter": "datum.k=='sm' && isValid(datum.lo)"}], "mark": {"type": "tick", "orient": "horizontal", "size": 8, "thickness": 1.4, "color": "#000", "opacity": 1}, "encoding": {"y": {"field": "lo", "type": "quantitative"}}},
  {"transform": [{"filter": "datum.k=='sm' && isValid(datum.hi)"}], "mark": {"type": "tick", "orient": "horizontal", "size": 8, "thickness": 1.4, "color": "#000", "opacity": 1}, "encoding": {"y": {"field": "hi", "type": "quantitative"}}},
  {"transform": [{"filter": "datum.k=='sg'"}], "mark": {"type": "rule", "strokeWidth": 2.2, "color": "#000"}, "encoding": {"x": {"field": "x1", "type": "quantitative"}, "x2": {"field": "x2"}, "y": {"field": "y", "type": "quantitative"}}},
  {"transform": [{"filter": "datum.k=='sg'"}], "mark": {"type": "text", "dy": -1, "baseline": "alphabetic", "fontSize": 15, "color": "#000"}, "encoding": {"x": {"field": "xm", "type": "quantitative"}, "y": {"field": "y", "type": "quantitative"}, "text": {"field": "t"}}}
 ]}
]
}
